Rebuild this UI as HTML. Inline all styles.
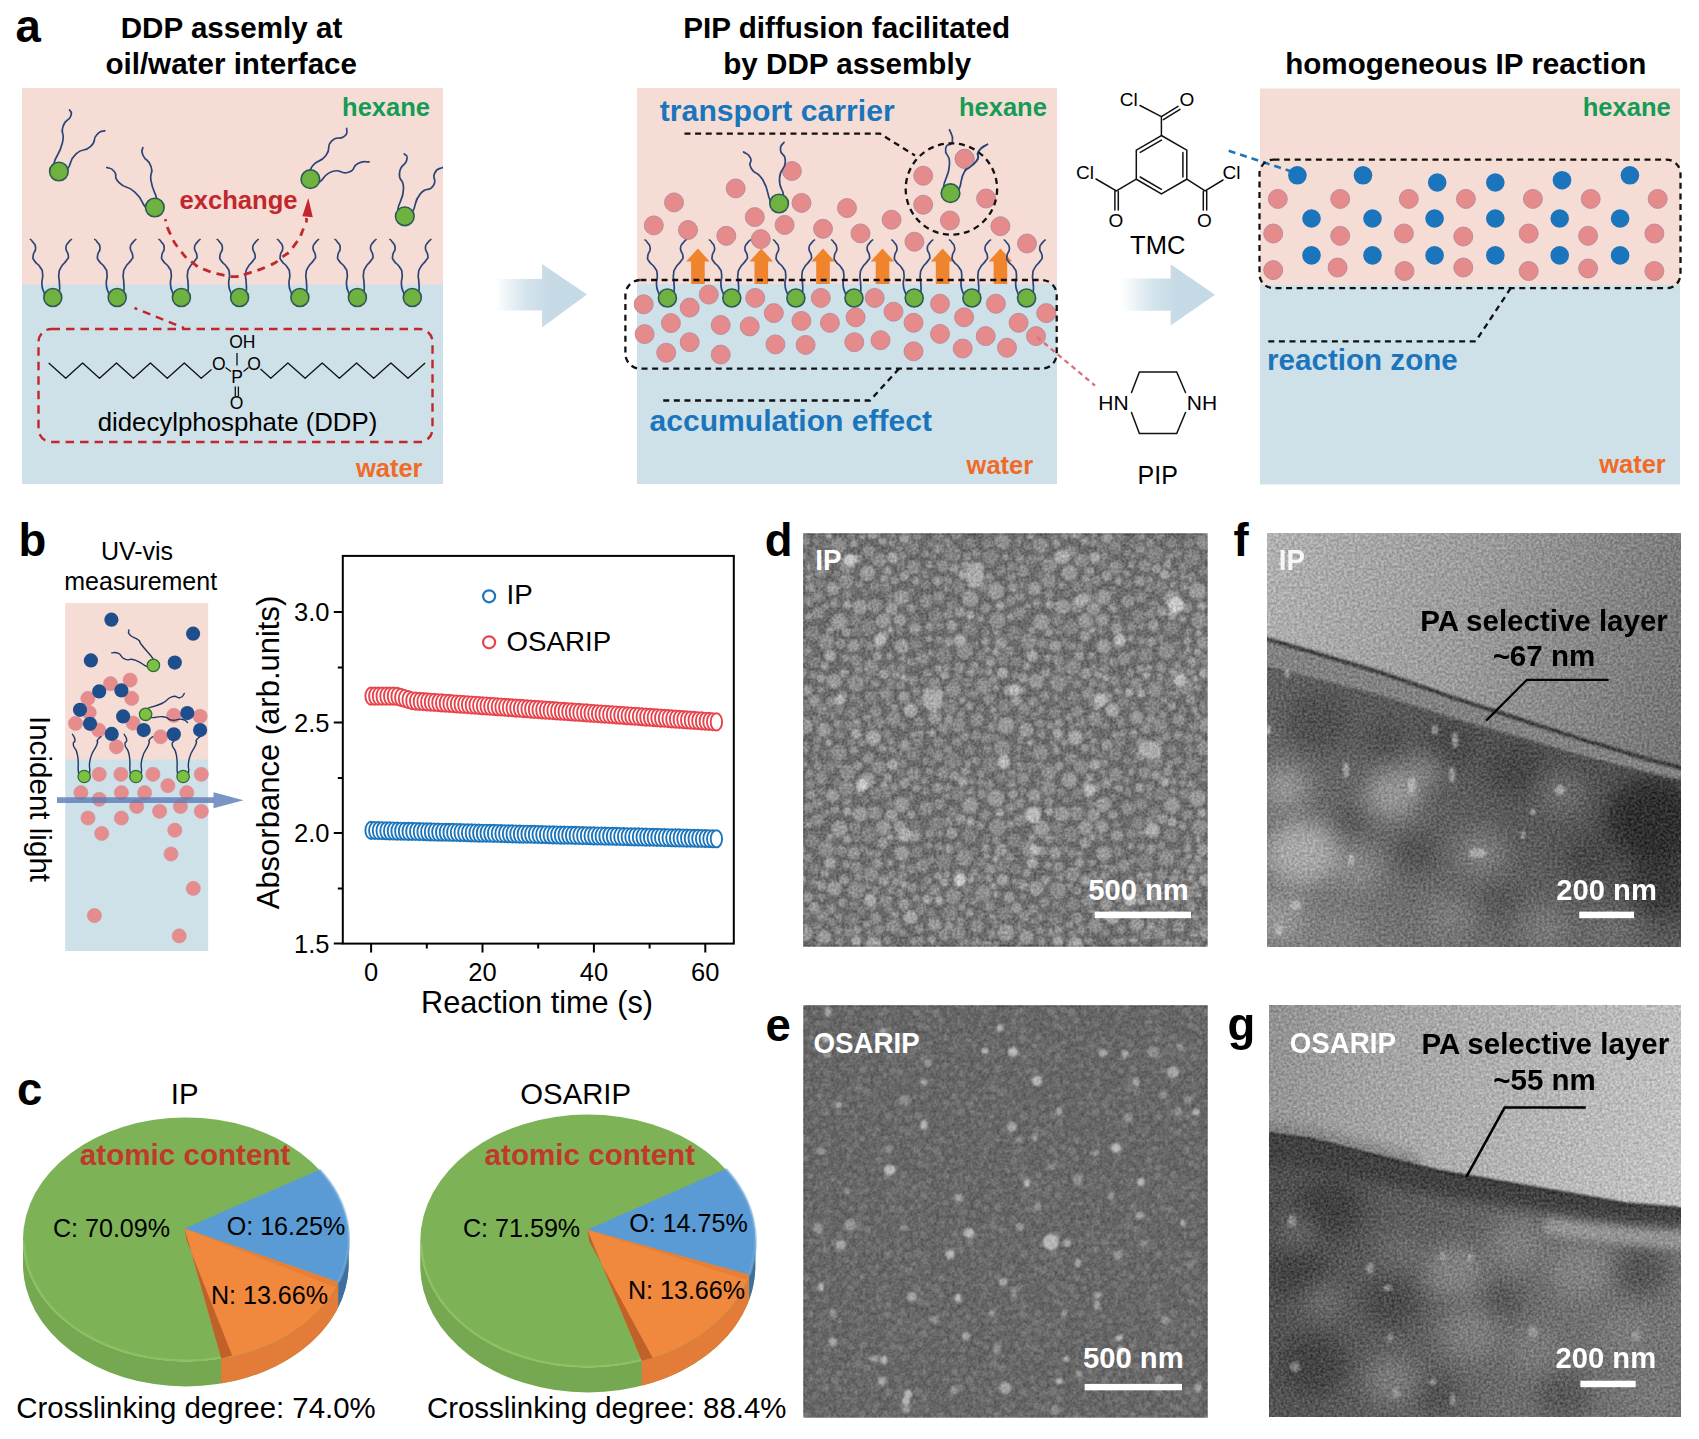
<!DOCTYPE html>
<html><head><meta charset="utf-8"><title>Figure</title>
<style>html,body{margin:0;padding:0;background:#fff}svg{display:block}text{font-family:"Liberation Sans",sans-serif}</style>
</head><body>
<svg width="1699" height="1439" viewBox="0 0 1699 1439">
<rect width="1699" height="1439" fill="#fff"/>
<rect x="22" y="88" width="421" height="197" fill="#F5DDD5"/>
<rect x="22" y="284.5" width="421" height="199.5" fill="#CFE1E8"/>
<text x="15.5" y="41.9" font-size="45.5" font-weight="bold" fill="#000" text-anchor="start" >a</text>
<text x="231.5" y="37.9" font-size="29.6" font-weight="bold" fill="#000" text-anchor="middle" >DDP assemly at</text>
<text x="231.2" y="73.6" font-size="29.6" font-weight="bold" fill="#000" text-anchor="middle" >oil/water interface</text>
<text x="430.0" y="115.6" font-size="25.5" font-weight="bold" fill="#149B55" text-anchor="end" >hexane</text>
<text x="422.5" y="476.6" font-size="25.5" font-weight="bold" fill="#F06A28" text-anchor="end" >water</text>
<clipPath id="cpa1"><rect x="22" y="88" width="421" height="396"/></clipPath><g clip-path="url(#cpa1)">
<path d="M55.9,166.5C55.3,165.2 51.9,170.6 54.1,162.7C56.3,154.8 59.5,154.7 62.4,142.7C65.3,130.7 60.1,135.5 62.9,126.7C65.7,117.9 68.5,121.9 70.7,116.3C72.9,110.7 70.0,112.0 69.6,109.9" fill="none" stroke="#2B4579" stroke-width="1.7" stroke-linecap="round"/><path d="M63.9,169.5C65.3,169.1 64.0,173.5 68.0,168.3C72.0,163.1 68.5,161.1 76.0,153.9C83.5,146.7 83.5,153.1 90.4,146.7C97.3,140.3 92.0,140.0 96.8,134.7C101.6,129.4 102.1,132.0 104.8,130.7" fill="none" stroke="#2B4579" stroke-width="1.7" stroke-linecap="round"/><circle cx="58.9" cy="171.5" r="9.3" fill="#6FB240" stroke="#2C5A55" stroke-width="1.6"/>
<path d="M149.8,207.3C148.4,207.3 150.4,212.2 145.5,207.2C140.6,202.2 143.9,200.5 135.1,192.3C126.3,184.1 126.0,189.6 119.1,182.7C112.2,175.8 118.4,176.6 114.3,171.5C110.2,166.4 109.3,168.8 106.8,167.5" fill="none" stroke="#2B4579" stroke-width="1.7" stroke-linecap="round"/><path d="M155.8,202.5C156.1,201.2 158.3,205.8 156.7,198.7C155.1,191.6 153.0,191.8 151.1,181.1C149.2,170.4 153.8,175.2 151.1,166.7C148.4,158.2 145.9,161.9 143.1,155.5C140.3,149.1 142.9,150.2 142.8,147.5" fill="none" stroke="#2B4579" stroke-width="1.7" stroke-linecap="round"/><circle cx="154.8" cy="207.5" r="9.3" fill="#6FB240" stroke="#2C5A55" stroke-width="1.6"/>
<path d="M310.4,174.2C311.3,171.2 307.9,171.4 313.1,165.2C318.3,159.0 319.8,163.5 325.9,155.5C332.0,147.5 325.4,147.6 331.5,141.2C337.6,134.8 339.2,140.7 344.3,136.4C349.4,132.1 345.9,131.1 346.7,128.4" fill="none" stroke="#2B4579" stroke-width="1.7" stroke-linecap="round"/><path d="M315.4,180.7C316.8,181.1 313.9,185.0 319.5,181.9C325.1,178.8 322.7,174.7 332.3,171.5C341.9,168.3 339.8,175.0 348.3,172.3C356.8,169.6 351.0,167.0 357.9,163.5C364.8,160.0 365.4,162.4 369.1,161.9" fill="none" stroke="#2B4579" stroke-width="1.7" stroke-linecap="round"/><circle cx="310.4" cy="179.2" r="9.3" fill="#6FB240" stroke="#2C5A55" stroke-width="1.6"/>
<path d="M400.8,212.3C399.8,211.2 397.0,216.8 397.9,209.1C398.8,201.4 403.0,201.1 403.5,189.1C404.0,177.1 398.4,182.7 399.5,173.1C400.6,163.5 405.1,166.7 406.7,160.3C408.3,153.9 405.1,156.0 404.3,153.9" fill="none" stroke="#2B4579" stroke-width="1.7" stroke-linecap="round"/><path d="M409.8,213.3C410.9,212.4 409.6,217.2 413.1,210.7C416.6,204.2 413.6,202.2 420.3,193.9C427.0,185.6 428.3,192.8 433.1,185.9C437.9,179.0 431.5,179.2 434.7,173.1C437.9,167.0 440.0,169.4 442.7,167.5" fill="none" stroke="#2B4579" stroke-width="1.7" stroke-linecap="round"/><circle cx="404.8" cy="216.3" r="9.3" fill="#6FB240" stroke="#2C5A55" stroke-width="1.6"/>
<path d="M45.3,294.5C44.7,293.5 44.7,295.1 43.6,291.6C42.5,288.1 42.2,289.7 41.9,283.9C41.6,278.1 43.2,279.7 42.6,274.2C42.0,268.7 42.9,271.7 40.2,267.3C37.5,262.9 36.9,264.9 34.6,261.0C32.3,257.1 32.9,259.9 33.2,255.5C33.5,251.1 35.8,252.4 35.6,247.8C35.4,243.2 34.2,244.4 32.5,241.6C30.8,238.8 31.1,240.2 30.4,239.5" fill="none" stroke="#2B4579" stroke-width="1.7" stroke-linecap="round"/><path d="M58.8,293.5C59.1,292.2 59.4,293.6 59.6,289.5C59.8,285.4 59.5,286.3 59.3,281.2C59.1,276.1 58.3,278.8 58.9,274.2C59.5,269.6 58.4,271.9 61.0,267.3C63.6,262.7 64.2,264.2 66.6,260.3C69.0,256.4 68.5,259.7 68.3,255.5C68.1,251.3 65.8,252.2 65.9,247.8C66.0,243.4 66.8,245.1 68.6,242.3C70.4,239.5 70.5,240.4 71.4,239.5" fill="none" stroke="#2B4579" stroke-width="1.7" stroke-linecap="round"/><circle cx="52.8" cy="297.5" r="9.0" fill="#6FB240" stroke="#2C5A55" stroke-width="1.6"/>
<path d="M109.7,294.5C109.1,293.5 109.1,295.1 108.0,291.6C106.9,288.1 106.6,289.7 106.3,283.9C106.0,278.1 107.6,279.7 107.0,274.2C106.4,268.7 107.3,271.7 104.6,267.3C101.9,262.9 101.3,264.9 99.0,261.0C96.7,257.1 97.3,259.9 97.6,255.5C97.9,251.1 100.2,252.4 100.0,247.8C99.8,243.2 98.6,244.4 96.9,241.6C95.2,238.8 95.5,240.2 94.8,239.5" fill="none" stroke="#2B4579" stroke-width="1.7" stroke-linecap="round"/><path d="M123.2,293.5C123.5,292.2 123.8,293.6 124.0,289.5C124.2,285.4 123.9,286.3 123.7,281.2C123.5,276.1 122.7,278.8 123.3,274.2C123.9,269.6 122.8,271.9 125.4,267.3C128.0,262.7 128.6,264.2 131.0,260.3C133.4,256.4 132.9,259.7 132.7,255.5C132.5,251.3 130.2,252.2 130.3,247.8C130.4,243.4 131.2,245.1 133.0,242.3C134.8,239.5 134.9,240.4 135.8,239.5" fill="none" stroke="#2B4579" stroke-width="1.7" stroke-linecap="round"/><circle cx="117.2" cy="297.5" r="9.0" fill="#6FB240" stroke="#2C5A55" stroke-width="1.6"/>
<path d="M173.9,294.5C173.3,293.5 173.3,295.1 172.2,291.6C171.1,288.1 170.8,289.7 170.5,283.9C170.2,278.1 171.8,279.7 171.2,274.2C170.6,268.7 171.5,271.7 168.8,267.3C166.1,262.9 165.5,264.9 163.2,261.0C160.9,257.1 161.5,259.9 161.8,255.5C162.1,251.1 164.4,252.4 164.2,247.8C164.0,243.2 162.8,244.4 161.1,241.6C159.4,238.8 159.7,240.2 159.0,239.5" fill="none" stroke="#2B4579" stroke-width="1.7" stroke-linecap="round"/><path d="M187.4,293.5C187.7,292.2 188.0,293.6 188.2,289.5C188.4,285.4 188.1,286.3 187.9,281.2C187.7,276.1 186.9,278.8 187.5,274.2C188.1,269.6 187.0,271.9 189.6,267.3C192.2,262.7 192.8,264.2 195.2,260.3C197.6,256.4 197.1,259.7 196.9,255.5C196.7,251.3 194.4,252.2 194.5,247.8C194.6,243.4 195.4,245.1 197.2,242.3C199.0,239.5 199.1,240.4 200.0,239.5" fill="none" stroke="#2B4579" stroke-width="1.7" stroke-linecap="round"/><circle cx="181.4" cy="297.5" r="9.0" fill="#6FB240" stroke="#2C5A55" stroke-width="1.6"/>
<path d="M232.1,294.5C231.5,293.5 231.5,295.1 230.4,291.6C229.3,288.1 229.0,289.7 228.7,283.9C228.4,278.1 230.0,279.7 229.4,274.2C228.8,268.7 229.7,271.7 227.0,267.3C224.3,262.9 223.7,264.9 221.4,261.0C219.1,257.1 219.7,259.9 220.0,255.5C220.3,251.1 222.6,252.4 222.4,247.8C222.2,243.2 221.0,244.4 219.3,241.6C217.6,238.8 217.9,240.2 217.2,239.5" fill="none" stroke="#2B4579" stroke-width="1.7" stroke-linecap="round"/><path d="M245.6,293.5C245.9,292.2 246.2,293.6 246.4,289.5C246.6,285.4 246.3,286.3 246.1,281.2C245.9,276.1 245.1,278.8 245.7,274.2C246.3,269.6 245.2,271.9 247.8,267.3C250.4,262.7 251.0,264.2 253.4,260.3C255.8,256.4 255.3,259.7 255.1,255.5C254.9,251.3 252.6,252.2 252.7,247.8C252.8,243.4 253.6,245.1 255.4,242.3C257.2,239.5 257.3,240.4 258.2,239.5" fill="none" stroke="#2B4579" stroke-width="1.7" stroke-linecap="round"/><circle cx="239.6" cy="297.5" r="9.0" fill="#6FB240" stroke="#2C5A55" stroke-width="1.6"/>
<path d="M292.4,294.5C291.8,293.5 291.8,295.1 290.7,291.6C289.6,288.1 289.3,289.7 289.0,283.9C288.7,278.1 290.3,279.7 289.7,274.2C289.1,268.7 290.0,271.7 287.3,267.3C284.6,262.9 284.0,264.9 281.7,261.0C279.4,257.1 280.0,259.9 280.3,255.5C280.6,251.1 282.9,252.4 282.7,247.8C282.5,243.2 281.3,244.4 279.6,241.6C277.9,238.8 278.2,240.2 277.5,239.5" fill="none" stroke="#2B4579" stroke-width="1.7" stroke-linecap="round"/><path d="M305.9,293.5C306.2,292.2 306.5,293.6 306.7,289.5C306.9,285.4 306.6,286.3 306.4,281.2C306.2,276.1 305.4,278.8 306.0,274.2C306.6,269.6 305.5,271.9 308.1,267.3C310.7,262.7 311.3,264.2 313.7,260.3C316.1,256.4 315.6,259.7 315.4,255.5C315.2,251.3 312.9,252.2 313.0,247.8C313.1,243.4 313.9,245.1 315.7,242.3C317.5,239.5 317.6,240.4 318.5,239.5" fill="none" stroke="#2B4579" stroke-width="1.7" stroke-linecap="round"/><circle cx="299.9" cy="297.5" r="9.0" fill="#6FB240" stroke="#2C5A55" stroke-width="1.6"/>
<path d="M349.9,294.5C349.3,293.5 349.3,295.1 348.2,291.6C347.1,288.1 346.8,289.7 346.5,283.9C346.2,278.1 347.8,279.7 347.2,274.2C346.6,268.7 347.5,271.7 344.8,267.3C342.1,262.9 341.5,264.9 339.2,261.0C336.9,257.1 337.5,259.9 337.8,255.5C338.1,251.1 340.4,252.4 340.2,247.8C340.0,243.2 338.8,244.4 337.1,241.6C335.4,238.8 335.7,240.2 335.0,239.5" fill="none" stroke="#2B4579" stroke-width="1.7" stroke-linecap="round"/><path d="M363.4,293.5C363.7,292.2 364.0,293.6 364.2,289.5C364.4,285.4 364.1,286.3 363.9,281.2C363.7,276.1 362.9,278.8 363.5,274.2C364.1,269.6 363.0,271.9 365.6,267.3C368.2,262.7 368.8,264.2 371.2,260.3C373.6,256.4 373.1,259.7 372.9,255.5C372.7,251.3 370.4,252.2 370.5,247.8C370.6,243.4 371.4,245.1 373.2,242.3C375.0,239.5 375.1,240.4 376.0,239.5" fill="none" stroke="#2B4579" stroke-width="1.7" stroke-linecap="round"/><circle cx="357.4" cy="297.5" r="9.0" fill="#6FB240" stroke="#2C5A55" stroke-width="1.6"/>
<path d="M404.8,294.5C404.2,293.5 404.2,295.1 403.1,291.6C402.0,288.1 401.7,289.7 401.4,283.9C401.1,278.1 402.7,279.7 402.1,274.2C401.5,268.7 402.4,271.7 399.7,267.3C397.0,262.9 396.4,264.9 394.1,261.0C391.8,257.1 392.4,259.9 392.7,255.5C393.0,251.1 395.3,252.4 395.1,247.8C394.9,243.2 393.7,244.4 392.0,241.6C390.3,238.8 390.6,240.2 389.9,239.5" fill="none" stroke="#2B4579" stroke-width="1.7" stroke-linecap="round"/><path d="M418.3,293.5C418.6,292.2 418.9,293.6 419.1,289.5C419.3,285.4 419.0,286.3 418.8,281.2C418.6,276.1 417.8,278.8 418.4,274.2C419.0,269.6 417.9,271.9 420.5,267.3C423.1,262.7 423.7,264.2 426.1,260.3C428.5,256.4 428.0,259.7 427.8,255.5C427.6,251.3 425.3,252.2 425.4,247.8C425.5,243.4 426.3,245.1 428.1,242.3C429.9,239.5 430.0,240.4 430.9,239.5" fill="none" stroke="#2B4579" stroke-width="1.7" stroke-linecap="round"/><circle cx="412.3" cy="297.5" r="9.0" fill="#6FB240" stroke="#2C5A55" stroke-width="1.6"/>
</g>
<path d="M165.2,219.2C166.9,224.1 165.4,223.7 170.3,233.9C175.2,244.1 172.4,240.3 179.9,249.9C187.4,259.5 184.2,256.0 192.7,262.7C201.2,269.4 195.9,265.9 205.5,269.9C215.1,273.9 210.7,272.5 221.5,274.7C232.3,276.9 229.8,276.8 238.0,276.5C246.2,276.2 235.9,277.4 246.0,273.9C256.1,270.4 256.7,271.2 268.4,265.9C280.1,260.6 272.7,264.6 281.2,257.9C289.7,251.2 286.3,256.3 294.0,245.9C301.7,235.5 300.1,236.0 304.3,226.7C308.5,217.4 305.8,220.9 306.5,218.0" fill="none" stroke="#C1272D" stroke-width="2.8" stroke-dasharray="8 6.2" stroke-dashoffset="6"/>
<polygon points="308.3,198 302.3,216.2 312.8,217.2" fill="#C1272D"/>
<text x="179.5" y="209.0" font-size="25.6" font-weight="bold" fill="#C1272D" text-anchor="start" >exchange</text>
<path d="M134.5,308 L184,328" fill="none" stroke="#C1272D" stroke-width="2.6" stroke-dasharray="8 6" stroke-dashoffset="5"/>
<rect x="38.5" y="329" width="394" height="113" rx="13" ry="13" fill="none" stroke="#C1272D" stroke-width="2.4" stroke-dasharray="8.5 6"/>
<path d="M48.7,363.0 L65.7,378.3 L82.6,363.0 L99.5,378.3 L116.5,363.0 L133.4,378.3 L150.4,363.0 L167.3,378.3 L184.3,363.0 L201.2,378.3 L211.5,369.5" fill="none" stroke="#111" stroke-width="1.3" stroke-linejoin="round"/>
<path d="M260.5,369 L270.8,378.3 L287.9,363.0 L305.1,378.3 L322.2,363.0 L339.4,378.3 L356.6,363.0 L373.7,378.3 L390.9,363.0 L408.0,378.3 L425.1,363.0" fill="none" stroke="#111" stroke-width="1.3" stroke-linejoin="round"/>
<path d="M225.5,367.5 L231,371.5 M243.5,371.5 L248.5,367.5 M237,353 L237,365.5 M235.3,386.5 L235.3,396 M238.4,386.5 L238.4,396" stroke="#111" stroke-width="1.3" fill="none"/>
<text x="242.3" y="347.5" font-size="17.5" font-weight="normal" fill="#000" text-anchor="middle" >OH</text>
<text x="218.8" y="369.5" font-size="17.5" font-weight="normal" fill="#000" text-anchor="middle" >O</text>
<text x="254.0" y="369.5" font-size="17.5" font-weight="normal" fill="#000" text-anchor="middle" >O</text>
<text x="237.0" y="383.0" font-size="17.5" font-weight="normal" fill="#000" text-anchor="middle" >P</text>
<text x="236.6" y="409.0" font-size="17.5" font-weight="normal" fill="#000" text-anchor="middle" >O</text>
<text x="237.5" y="431.3" font-size="25.8" font-weight="normal" fill="#000" text-anchor="middle" >didecylphosphate (DDP)</text>
<defs><linearGradient id="ag" x1="0" x2="1" y1="0" y2="0"><stop offset="0" stop-color="#fff"/><stop offset="0.35" stop-color="#D3E3EC"/><stop offset="0.6" stop-color="#C6DAE6"/><stop offset="1" stop-color="#C3DBE5"/></linearGradient></defs>
<polygon points="495,279 542,279 542,264 587,294.5 542,327.5 542,310.5 495,310.5" fill="url(#ag)"/>
<polygon points="1121,278.6 1170.6,278.6 1170.6,264.2 1215,294.8 1170.6,325.4 1170.6,310.7 1121,310.7" fill="url(#ag)"/>
<rect x="637" y="88" width="420" height="197" fill="#F5DDD5"/>
<rect x="637" y="284" width="420" height="200" fill="#CFE1E8"/>
<text x="846.7" y="38.0" font-size="29.6" font-weight="bold" fill="#000" text-anchor="middle" >PIP diffusion facilitated</text>
<text x="847.2" y="73.8" font-size="29.6" font-weight="bold" fill="#000" text-anchor="middle" >by DDP assembly</text>
<text x="1046.9" y="115.5" font-size="25.5" font-weight="bold" fill="#149B55" text-anchor="end" >hexane</text>
<text x="1033.2" y="473.5" font-size="25.5" font-weight="bold" fill="#F06A28" text-anchor="end" >water</text>
<text x="659.8" y="121.0" font-size="30.2" font-weight="bold" fill="#1B75BC" text-anchor="start" >transport carrier</text>
<text x="649.5" y="431.0" font-size="30.1" font-weight="bold" fill="#1B75BC" text-anchor="start" >accumulation effect</text>
<circle cx="653.8" cy="225.4" r="9.5" fill="#E58B8B" stroke="#B48A9C" stroke-width="0.9"/>
<circle cx="674.0" cy="202.4" r="9.5" fill="#E58B8B" stroke="#B48A9C" stroke-width="0.9"/>
<circle cx="688.0" cy="230.0" r="9.5" fill="#E58B8B" stroke="#B48A9C" stroke-width="0.9"/>
<circle cx="726.3" cy="235.8" r="9.5" fill="#E58B8B" stroke="#B48A9C" stroke-width="0.9"/>
<circle cx="735.7" cy="188.4" r="9.5" fill="#E58B8B" stroke="#B48A9C" stroke-width="0.9"/>
<circle cx="754.8" cy="217.1" r="9.5" fill="#E58B8B" stroke="#B48A9C" stroke-width="0.9"/>
<circle cx="760.8" cy="239.1" r="9.5" fill="#E58B8B" stroke="#B48A9C" stroke-width="0.9"/>
<circle cx="784.6" cy="224.9" r="9.5" fill="#E58B8B" stroke="#B48A9C" stroke-width="0.9"/>
<circle cx="791.9" cy="171.0" r="9.5" fill="#E58B8B" stroke="#B48A9C" stroke-width="0.9"/>
<circle cx="801.5" cy="202.9" r="9.5" fill="#E58B8B" stroke="#B48A9C" stroke-width="0.9"/>
<circle cx="823.0" cy="228.8" r="9.5" fill="#E58B8B" stroke="#B48A9C" stroke-width="0.9"/>
<circle cx="847.0" cy="208.0" r="9.5" fill="#E58B8B" stroke="#B48A9C" stroke-width="0.9"/>
<circle cx="860.5" cy="233.4" r="9.5" fill="#E58B8B" stroke="#B48A9C" stroke-width="0.9"/>
<circle cx="891.6" cy="219.7" r="9.5" fill="#E58B8B" stroke="#B48A9C" stroke-width="0.9"/>
<circle cx="914.4" cy="241.7" r="9.5" fill="#E58B8B" stroke="#B48A9C" stroke-width="0.9"/>
<circle cx="923.2" cy="175.7" r="9.5" fill="#E58B8B" stroke="#B48A9C" stroke-width="0.9"/>
<circle cx="923.2" cy="204.7" r="9.5" fill="#E58B8B" stroke="#B48A9C" stroke-width="0.9"/>
<circle cx="949.9" cy="220.5" r="9.5" fill="#E58B8B" stroke="#B48A9C" stroke-width="0.9"/>
<circle cx="964.6" cy="158.8" r="9.5" fill="#E58B8B" stroke="#B48A9C" stroke-width="0.9"/>
<circle cx="986.1" cy="198.5" r="9.5" fill="#E58B8B" stroke="#B48A9C" stroke-width="0.9"/>
<circle cx="1000.4" cy="226.2" r="9.5" fill="#E58B8B" stroke="#B48A9C" stroke-width="0.9"/>
<circle cx="1027.0" cy="243.5" r="9.5" fill="#E58B8B" stroke="#B48A9C" stroke-width="0.9"/>
<polygon points="691.1,284 691.1,261.5 686.1,261.5 697.9,248.5 709.6999999999999,261.5 704.6999999999999,261.5 704.6999999999999,284" fill="#F0842C"/>
<polygon points="754.5,284 754.5,261.5 749.5,261.5 761.3,248.5 773.0999999999999,261.5 768.0999999999999,261.5 768.0999999999999,284" fill="#F0842C"/>
<polygon points="816.2,284 816.2,261.5 811.2,261.5 823,248.5 834.8,261.5 829.8,261.5 829.8,284" fill="#F0842C"/>
<polygon points="875.7,284 875.7,261.5 870.7,261.5 882.5,248.5 894.3,261.5 889.3,261.5 889.3,284" fill="#F0842C"/>
<polygon points="935.8000000000001,284 935.8000000000001,261.5 930.8000000000001,261.5 942.6,248.5 954.4,261.5 949.4,261.5 949.4,284" fill="#F0842C"/>
<polygon points="993.6,284 993.6,261.5 988.6,261.5 1000.4,248.5 1012.1999999999999,261.5 1007.1999999999999,261.5 1007.1999999999999,284" fill="#F0842C"/>
<path d="M774.1,202.0C772.8,201.5 773.9,207.9 770.2,200.6C766.5,193.3 769.3,190.9 763.0,180.2C756.7,169.5 755.5,175.9 751.3,168.5C747.1,161.1 753.0,163.4 750.4,157.9C747.8,152.4 745.9,154.0 743.6,152.0" fill="none" stroke="#2B4579" stroke-width="1.7" stroke-linecap="round"/><path d="M781.1,198.5C781.9,197.3 783.9,201.5 783.4,194.8C782.9,188.1 778.9,189.3 779.5,178.3C780.1,167.3 785.0,171.1 785.3,161.7C785.6,152.3 780.9,156.6 780.5,150.1C780.1,143.6 782.8,144.9 784.0,142.3" fill="none" stroke="#2B4579" stroke-width="1.7" stroke-linecap="round"/><circle cx="779.1" cy="203.5" r="9.3" fill="#6FB240" stroke="#2C5A55" stroke-width="1.6"/>
<path d="M946.5,189.2C945.6,188.1 942.7,194.2 943.7,186.0C944.7,177.8 948.9,176.9 949.5,164.6C950.1,152.3 944.6,156.9 945.6,149.1C946.6,141.3 951.1,147.8 952.4,141.3C953.7,134.8 950.5,133.6 949.5,129.7" fill="none" stroke="#2B4579" stroke-width="1.7" stroke-linecap="round"/><path d="M955.5,190.7C956.7,190.1 956.0,195.6 959.2,188.9C962.4,182.2 959.3,179.9 965.1,170.5C970.9,161.1 972.2,167.3 976.7,160.8C981.2,154.3 975.1,156.6 978.7,151.1C982.3,145.6 984.5,146.6 987.4,144.3" fill="none" stroke="#2B4579" stroke-width="1.7" stroke-linecap="round"/>
<circle cx="964.6" cy="158.8" r="9.5" fill="#E58B8B" stroke="#B48A9C" stroke-width="0.9"/>
<path d="M965.1,170.5C969.0,167.3 972.2,167.3 976.7,160.8C981.2,154.3 975.1,156.6 978.7,151.1C982.3,145.6 984.5,146.6 987.4,144.3" fill="none" stroke="#2B4579" stroke-width="1.7" stroke-linecap="round"/>
<circle cx="950.5" cy="193.2" r="9.3" fill="#6FB240" stroke="#2C5A55" stroke-width="1.6"/>
<circle cx="643.7" cy="304.3" r="9.5" fill="#E58B8B" stroke="#B48A9C" stroke-width="0.9"/>
<circle cx="644.6" cy="334.1" r="9.5" fill="#E58B8B" stroke="#B48A9C" stroke-width="0.9"/>
<circle cx="666.2" cy="352.7" r="9.5" fill="#E58B8B" stroke="#B48A9C" stroke-width="0.9"/>
<circle cx="670.9" cy="323.1" r="9.5" fill="#E58B8B" stroke="#B48A9C" stroke-width="0.9"/>
<circle cx="689.7" cy="307.6" r="9.5" fill="#E58B8B" stroke="#B48A9C" stroke-width="0.9"/>
<circle cx="689.7" cy="342.2" r="9.5" fill="#E58B8B" stroke="#B48A9C" stroke-width="0.9"/>
<circle cx="708.8" cy="294.6" r="9.5" fill="#E58B8B" stroke="#B48A9C" stroke-width="0.9"/>
<circle cx="720.7" cy="325.0" r="9.5" fill="#E58B8B" stroke="#B48A9C" stroke-width="0.9"/>
<circle cx="720.7" cy="354.6" r="9.5" fill="#E58B8B" stroke="#B48A9C" stroke-width="0.9"/>
<circle cx="749.7" cy="326.4" r="9.5" fill="#E58B8B" stroke="#B48A9C" stroke-width="0.9"/>
<circle cx="755.2" cy="297.9" r="9.5" fill="#E58B8B" stroke="#B48A9C" stroke-width="0.9"/>
<circle cx="773.8" cy="313.1" r="9.5" fill="#E58B8B" stroke="#B48A9C" stroke-width="0.9"/>
<circle cx="775.4" cy="344.4" r="9.5" fill="#E58B8B" stroke="#B48A9C" stroke-width="0.9"/>
<circle cx="801.4" cy="320.9" r="9.5" fill="#E58B8B" stroke="#B48A9C" stroke-width="0.9"/>
<circle cx="805.6" cy="344.9" r="9.5" fill="#E58B8B" stroke="#B48A9C" stroke-width="0.9"/>
<circle cx="820.8" cy="297.9" r="9.5" fill="#E58B8B" stroke="#B48A9C" stroke-width="0.9"/>
<circle cx="829.9" cy="322.8" r="9.5" fill="#E58B8B" stroke="#B48A9C" stroke-width="0.9"/>
<circle cx="854.3" cy="342.2" r="9.5" fill="#E58B8B" stroke="#B48A9C" stroke-width="0.9"/>
<circle cx="855.6" cy="317.3" r="9.5" fill="#E58B8B" stroke="#B48A9C" stroke-width="0.9"/>
<circle cx="874.7" cy="297.9" r="9.5" fill="#E58B8B" stroke="#B48A9C" stroke-width="0.9"/>
<circle cx="880.5" cy="340.2" r="9.5" fill="#E58B8B" stroke="#B48A9C" stroke-width="0.9"/>
<circle cx="893.5" cy="311.7" r="9.5" fill="#E58B8B" stroke="#B48A9C" stroke-width="0.9"/>
<circle cx="913.5" cy="322.8" r="9.5" fill="#E58B8B" stroke="#B48A9C" stroke-width="0.9"/>
<circle cx="913.5" cy="351.3" r="9.5" fill="#E58B8B" stroke="#B48A9C" stroke-width="0.9"/>
<circle cx="940.0" cy="303.7" r="9.5" fill="#E58B8B" stroke="#B48A9C" stroke-width="0.9"/>
<circle cx="940.0" cy="333.9" r="9.5" fill="#E58B8B" stroke="#B48A9C" stroke-width="0.9"/>
<circle cx="962.7" cy="348.5" r="9.5" fill="#E58B8B" stroke="#B48A9C" stroke-width="0.9"/>
<circle cx="964.1" cy="317.3" r="9.5" fill="#E58B8B" stroke="#B48A9C" stroke-width="0.9"/>
<circle cx="985.7" cy="336.1" r="9.5" fill="#E58B8B" stroke="#B48A9C" stroke-width="0.9"/>
<circle cx="995.9" cy="303.7" r="9.5" fill="#E58B8B" stroke="#B48A9C" stroke-width="0.9"/>
<circle cx="1007.0" cy="347.7" r="9.5" fill="#E58B8B" stroke="#B48A9C" stroke-width="0.9"/>
<circle cx="1018.6" cy="322.8" r="9.5" fill="#E58B8B" stroke="#B48A9C" stroke-width="0.9"/>
<circle cx="1036.0" cy="336.1" r="9.5" fill="#E58B8B" stroke="#B48A9C" stroke-width="0.9"/>
<circle cx="1046.2" cy="313.1" r="9.5" fill="#E58B8B" stroke="#B48A9C" stroke-width="0.9"/>
<path d="M659.9,295.0C659.3,294.0 659.3,295.6 658.2,292.1C657.1,288.6 656.8,290.2 656.5,284.4C656.2,278.6 657.8,280.2 657.2,274.7C656.6,269.2 657.5,272.2 654.8,267.8C652.1,263.4 651.5,265.4 649.2,261.5C646.9,257.6 647.5,260.4 647.8,256.0C648.1,251.6 650.4,252.9 650.2,248.3C650.0,243.7 648.8,244.9 647.1,242.1C645.4,239.3 645.7,240.7 645.0,240.0" fill="none" stroke="#2B4579" stroke-width="1.7" stroke-linecap="round"/><path d="M673.4,294.0C673.7,292.7 674.0,294.1 674.2,290.0C674.4,285.9 674.1,286.8 673.9,281.7C673.7,276.6 672.9,279.3 673.5,274.7C674.1,270.1 673.0,272.4 675.6,267.8C678.2,263.2 678.8,264.7 681.2,260.8C683.6,256.9 683.1,260.2 682.9,256.0C682.7,251.8 680.4,252.7 680.5,248.3C680.6,243.9 681.4,245.6 683.2,242.8C685.0,240.0 685.1,240.9 686.0,240.0" fill="none" stroke="#2B4579" stroke-width="1.7" stroke-linecap="round"/><circle cx="667.4" cy="298.0" r="9.0" fill="#6FB240" stroke="#2C5A55" stroke-width="1.6"/>
<path d="M724.3,295.0C723.7,294.0 723.7,295.6 722.6,292.1C721.5,288.6 721.2,290.2 720.9,284.4C720.6,278.6 722.2,280.2 721.6,274.7C721.0,269.2 721.9,272.2 719.2,267.8C716.5,263.4 715.9,265.4 713.6,261.5C711.3,257.6 711.9,260.4 712.2,256.0C712.5,251.6 714.8,252.9 714.6,248.3C714.4,243.7 713.2,244.9 711.5,242.1C709.8,239.3 710.1,240.7 709.4,240.0" fill="none" stroke="#2B4579" stroke-width="1.7" stroke-linecap="round"/><path d="M737.8,294.0C738.1,292.7 738.4,294.1 738.6,290.0C738.8,285.9 738.5,286.8 738.3,281.7C738.1,276.6 737.3,279.3 737.9,274.7C738.5,270.1 737.4,272.4 740.0,267.8C742.6,263.2 743.2,264.7 745.6,260.8C748.0,256.9 747.5,260.2 747.3,256.0C747.1,251.8 744.8,252.7 744.9,248.3C745.0,243.9 745.8,245.6 747.6,242.8C749.4,240.0 749.5,240.9 750.4,240.0" fill="none" stroke="#2B4579" stroke-width="1.7" stroke-linecap="round"/><circle cx="731.8" cy="298.0" r="9.0" fill="#6FB240" stroke="#2C5A55" stroke-width="1.6"/>
<path d="M788.4,295.0C787.8,294.0 787.8,295.6 786.7,292.1C785.6,288.6 785.3,290.2 785.0,284.4C784.7,278.6 786.3,280.2 785.7,274.7C785.1,269.2 786.0,272.2 783.3,267.8C780.6,263.4 780.0,265.4 777.7,261.5C775.4,257.6 776.0,260.4 776.3,256.0C776.6,251.6 778.9,252.9 778.7,248.3C778.5,243.7 777.3,244.9 775.6,242.1C773.9,239.3 774.2,240.7 773.5,240.0" fill="none" stroke="#2B4579" stroke-width="1.7" stroke-linecap="round"/><path d="M801.9,294.0C802.2,292.7 802.5,294.1 802.7,290.0C802.9,285.9 802.6,286.8 802.4,281.7C802.2,276.6 801.4,279.3 802.0,274.7C802.6,270.1 801.5,272.4 804.1,267.8C806.7,263.2 807.3,264.7 809.7,260.8C812.1,256.9 811.6,260.2 811.4,256.0C811.2,251.8 808.9,252.7 809.0,248.3C809.1,243.9 809.9,245.6 811.7,242.8C813.5,240.0 813.6,240.9 814.5,240.0" fill="none" stroke="#2B4579" stroke-width="1.7" stroke-linecap="round"/><circle cx="795.9" cy="298.0" r="9.0" fill="#6FB240" stroke="#2C5A55" stroke-width="1.6"/>
<path d="M846.5,295.0C845.9,294.0 845.9,295.6 844.8,292.1C843.7,288.6 843.4,290.2 843.1,284.4C842.8,278.6 844.4,280.2 843.8,274.7C843.2,269.2 844.1,272.2 841.4,267.8C838.7,263.4 838.1,265.4 835.8,261.5C833.5,257.6 834.1,260.4 834.4,256.0C834.7,251.6 837.0,252.9 836.8,248.3C836.6,243.7 835.4,244.9 833.7,242.1C832.0,239.3 832.3,240.7 831.6,240.0" fill="none" stroke="#2B4579" stroke-width="1.7" stroke-linecap="round"/><path d="M860.0,294.0C860.3,292.7 860.6,294.1 860.8,290.0C861.0,285.9 860.7,286.8 860.5,281.7C860.3,276.6 859.5,279.3 860.1,274.7C860.7,270.1 859.6,272.4 862.2,267.8C864.8,263.2 865.4,264.7 867.8,260.8C870.2,256.9 869.7,260.2 869.5,256.0C869.3,251.8 867.0,252.7 867.1,248.3C867.2,243.9 868.0,245.6 869.8,242.8C871.6,240.0 871.7,240.9 872.6,240.0" fill="none" stroke="#2B4579" stroke-width="1.7" stroke-linecap="round"/><circle cx="854.0" cy="298.0" r="9.0" fill="#6FB240" stroke="#2C5A55" stroke-width="1.6"/>
<path d="M906.7,295.0C906.1,294.0 906.1,295.6 905.0,292.1C903.9,288.6 903.6,290.2 903.3,284.4C903.0,278.6 904.6,280.2 904.0,274.7C903.4,269.2 904.3,272.2 901.6,267.8C898.9,263.4 898.3,265.4 896.0,261.5C893.7,257.6 894.3,260.4 894.6,256.0C894.9,251.6 897.2,252.9 897.0,248.3C896.8,243.7 895.6,244.9 893.9,242.1C892.2,239.3 892.5,240.7 891.8,240.0" fill="none" stroke="#2B4579" stroke-width="1.7" stroke-linecap="round"/><path d="M920.2,294.0C920.5,292.7 920.8,294.1 921.0,290.0C921.2,285.9 920.9,286.8 920.7,281.7C920.5,276.6 919.7,279.3 920.3,274.7C920.9,270.1 919.8,272.4 922.4,267.8C925.0,263.2 925.6,264.7 928.0,260.8C930.4,256.9 929.9,260.2 929.7,256.0C929.5,251.8 927.2,252.7 927.3,248.3C927.4,243.9 928.2,245.6 930.0,242.8C931.8,240.0 931.9,240.9 932.8,240.0" fill="none" stroke="#2B4579" stroke-width="1.7" stroke-linecap="round"/><circle cx="914.2" cy="298.0" r="9.0" fill="#6FB240" stroke="#2C5A55" stroke-width="1.6"/>
<path d="M964.4,295.0C963.8,294.0 963.8,295.6 962.7,292.1C961.6,288.6 961.3,290.2 961.0,284.4C960.7,278.6 962.3,280.2 961.7,274.7C961.1,269.2 962.0,272.2 959.3,267.8C956.6,263.4 956.0,265.4 953.7,261.5C951.4,257.6 952.0,260.4 952.3,256.0C952.6,251.6 954.9,252.9 954.7,248.3C954.5,243.7 953.3,244.9 951.6,242.1C949.9,239.3 950.2,240.7 949.5,240.0" fill="none" stroke="#2B4579" stroke-width="1.7" stroke-linecap="round"/><path d="M977.9,294.0C978.2,292.7 978.5,294.1 978.7,290.0C978.9,285.9 978.6,286.8 978.4,281.7C978.2,276.6 977.4,279.3 978.0,274.7C978.6,270.1 977.5,272.4 980.1,267.8C982.7,263.2 983.3,264.7 985.7,260.8C988.1,256.9 987.6,260.2 987.4,256.0C987.2,251.8 984.9,252.7 985.0,248.3C985.1,243.9 985.9,245.6 987.7,242.8C989.5,240.0 989.6,240.9 990.5,240.0" fill="none" stroke="#2B4579" stroke-width="1.7" stroke-linecap="round"/><circle cx="971.9" cy="298.0" r="9.0" fill="#6FB240" stroke="#2C5A55" stroke-width="1.6"/>
<path d="M1019.1,295.0C1018.5,294.0 1018.5,295.6 1017.4,292.1C1016.3,288.6 1016.0,290.2 1015.7,284.4C1015.4,278.6 1017.0,280.2 1016.4,274.7C1015.8,269.2 1016.7,272.2 1014.0,267.8C1011.3,263.4 1010.7,265.4 1008.4,261.5C1006.1,257.6 1006.7,260.4 1007.0,256.0C1007.3,251.6 1009.6,252.9 1009.4,248.3C1009.2,243.7 1008.0,244.9 1006.3,242.1C1004.6,239.3 1004.9,240.7 1004.2,240.0" fill="none" stroke="#2B4579" stroke-width="1.7" stroke-linecap="round"/><path d="M1032.6,294.0C1032.9,292.7 1033.2,294.1 1033.4,290.0C1033.6,285.9 1033.3,286.8 1033.1,281.7C1032.9,276.6 1032.1,279.3 1032.7,274.7C1033.3,270.1 1032.2,272.4 1034.8,267.8C1037.4,263.2 1038.0,264.7 1040.4,260.8C1042.8,256.9 1042.3,260.2 1042.1,256.0C1041.9,251.8 1039.6,252.7 1039.7,248.3C1039.8,243.9 1040.6,245.6 1042.4,242.8C1044.2,240.0 1044.3,240.9 1045.2,240.0" fill="none" stroke="#2B4579" stroke-width="1.7" stroke-linecap="round"/><circle cx="1026.6" cy="298.0" r="9.0" fill="#6FB240" stroke="#2C5A55" stroke-width="1.6"/>
<circle cx="951.4" cy="189" r="45.7" fill="none" stroke="#111" stroke-width="2.3" stroke-dasharray="6 4.6"/>
<path d="M684.5,133.7 L880,133.7 L915,155.5" fill="none" stroke="#111" stroke-width="2.3" stroke-dasharray="6 4.6"/>
<rect x="625.4" y="280" width="431.3" height="88.7" rx="15" ry="15" fill="none" stroke="#111" stroke-width="2.3" stroke-dasharray="6 4.6"/>
<path d="M899,368.7 L870,400.5 L661,400.5" fill="none" stroke="#111" stroke-width="2.3" stroke-dasharray="6 4.6"/>
<path d="M1037,337 L1095,385.6" fill="none" stroke="#D9737F" stroke-width="2.4" stroke-dasharray="5 4"/>
<polygon points="1161.4,135.5 1186.8,150.2 1186.8,179.2 1161.4,193.9 1136.3,179.2 1136.3,150.2" stroke="#111" stroke-width="1.5" fill="none" stroke-linecap="round"/>
<path d="M1140.2,152.4 L1161.4,140.1 M1182.9,152.5 L1182.9,176.9 M1140.2,177 L1161.4,189.3" stroke="#111" stroke-width="1.5" fill="none" stroke-linecap="round"/>
<path d="M1161.4,135.5 L1161.4,116.6 L1140,105.5 M1161.4,116.6 L1178,106.3 M1163.4,119.6 L1180,109.3" stroke="#111" stroke-width="1.5" fill="none" stroke-linecap="round"/>
<path d="M1136.3,179.2 L1116.4,190.9 L1096,179 M1114.9,190.9 L1114.9,210 M1118.3,191.5 L1118.3,210" stroke="#111" stroke-width="1.5" fill="none" stroke-linecap="round"/>
<path d="M1186.8,179.2 L1205.1,190.9 L1223,180 M1203.3,191.5 L1203.3,210 M1206.7,190.9 L1206.7,210" stroke="#111" stroke-width="1.5" fill="none" stroke-linecap="round"/>
<text x="1128.7" y="106.3" font-size="19" font-weight="normal" fill="#000" text-anchor="middle" >Cl</text>
<text x="1187.0" y="105.8" font-size="19" font-weight="normal" fill="#000" text-anchor="middle" >O</text>
<text x="1085.0" y="179.0" font-size="19" font-weight="normal" fill="#000" text-anchor="middle" >Cl</text>
<text x="1231.5" y="179.0" font-size="19" font-weight="normal" fill="#000" text-anchor="middle" >Cl</text>
<text x="1115.8" y="226.5" font-size="19" font-weight="normal" fill="#000" text-anchor="middle" >O</text>
<text x="1204.4" y="226.5" font-size="19" font-weight="normal" fill="#000" text-anchor="middle" >O</text>
<text x="1157.7" y="254.2" font-size="25.5" font-weight="normal" fill="#000" text-anchor="middle" >TMC</text>
<path d="M1131.5,392.5 L1139.4,371.9 L1176.7,371.9 L1185.5,392.5 M1185.5,412.5 L1176.7,433.6 L1139.4,433.6 L1131.5,412.5" stroke="#111" stroke-width="1.5" fill="none" stroke-linecap="round"/>
<text x="1128.7" y="410.3" font-size="21" font-weight="normal" fill="#000" text-anchor="end" >HN</text>
<text x="1186.8" y="410.3" font-size="21" font-weight="normal" fill="#000" text-anchor="start" >NH</text>
<text x="1157.7" y="483.5" font-size="25" font-weight="normal" fill="#000" text-anchor="middle" >PIP</text>
<rect x="1260" y="88.5" width="420" height="197" fill="#F5DDD5"/>
<rect x="1260" y="285" width="420" height="199.5" fill="#CFE1E8"/>
<text x="1465.8" y="74.1" font-size="29.6" font-weight="bold" fill="#000" text-anchor="middle" >homogeneous IP reaction</text>
<text x="1670.7" y="115.6" font-size="25.5" font-weight="bold" fill="#149B55" text-anchor="end" >hexane</text>
<text x="1665.8" y="472.6" font-size="25.5" font-weight="bold" fill="#F06A28" text-anchor="end" >water</text>
<text x="1267.0" y="369.5" font-size="29.6" font-weight="bold" fill="#1B75BC" text-anchor="start" >reaction zone</text>
<circle cx="1297.4" cy="175.3" r="9.3" fill="#1B75BC"/>
<circle cx="1363" cy="175.3" r="9.3" fill="#1B75BC"/>
<circle cx="1437.2" cy="182.5" r="9.3" fill="#1B75BC"/>
<circle cx="1495.3" cy="182.5" r="9.3" fill="#1B75BC"/>
<circle cx="1562" cy="180.2" r="9.3" fill="#1B75BC"/>
<circle cx="1629.9" cy="175.3" r="9.3" fill="#1B75BC"/>
<circle cx="1311.5" cy="218.5" r="9.3" fill="#1B75BC"/>
<circle cx="1311.5" cy="255.4" r="9.3" fill="#1B75BC"/>
<circle cx="1372.5" cy="218.5" r="9.3" fill="#1B75BC"/>
<circle cx="1372.5" cy="255.4" r="9.3" fill="#1B75BC"/>
<circle cx="1434.6" cy="218.5" r="9.3" fill="#1B75BC"/>
<circle cx="1434.6" cy="255.4" r="9.3" fill="#1B75BC"/>
<circle cx="1495.3" cy="218.5" r="9.3" fill="#1B75BC"/>
<circle cx="1495.3" cy="255.4" r="9.3" fill="#1B75BC"/>
<circle cx="1559.7" cy="218.5" r="9.3" fill="#1B75BC"/>
<circle cx="1559.7" cy="255.4" r="9.3" fill="#1B75BC"/>
<circle cx="1620.1" cy="218.5" r="9.3" fill="#1B75BC"/>
<circle cx="1620.1" cy="255.4" r="9.3" fill="#1B75BC"/>
<circle cx="1277.8" cy="198.9" r="9.5" fill="#E58B8B" stroke="#B48A9C" stroke-width="0.9"/>
<circle cx="1340.2" cy="198.9" r="9.5" fill="#E58B8B" stroke="#B48A9C" stroke-width="0.9"/>
<circle cx="1408.8" cy="198.9" r="9.5" fill="#E58B8B" stroke="#B48A9C" stroke-width="0.9"/>
<circle cx="1465.9" cy="198.9" r="9.5" fill="#E58B8B" stroke="#B48A9C" stroke-width="0.9"/>
<circle cx="1532.9" cy="198.9" r="9.5" fill="#E58B8B" stroke="#B48A9C" stroke-width="0.9"/>
<circle cx="1590.7" cy="198.9" r="9.5" fill="#E58B8B" stroke="#B48A9C" stroke-width="0.9"/>
<circle cx="1657.7" cy="198.9" r="9.5" fill="#E58B8B" stroke="#B48A9C" stroke-width="0.9"/>
<circle cx="1273.2" cy="233.5" r="9.5" fill="#E58B8B" stroke="#B48A9C" stroke-width="0.9"/>
<circle cx="1340.2" cy="235.8" r="9.5" fill="#E58B8B" stroke="#B48A9C" stroke-width="0.9"/>
<circle cx="1403.9" cy="233.5" r="9.5" fill="#E58B8B" stroke="#B48A9C" stroke-width="0.9"/>
<circle cx="1463.3" cy="236.5" r="9.5" fill="#E58B8B" stroke="#B48A9C" stroke-width="0.9"/>
<circle cx="1528.7" cy="233.5" r="9.5" fill="#E58B8B" stroke="#B48A9C" stroke-width="0.9"/>
<circle cx="1588.1" cy="235.8" r="9.5" fill="#E58B8B" stroke="#B48A9C" stroke-width="0.9"/>
<circle cx="1654.4" cy="233.5" r="9.5" fill="#E58B8B" stroke="#B48A9C" stroke-width="0.9"/>
<circle cx="1273.2" cy="270.1" r="9.5" fill="#E58B8B" stroke="#B48A9C" stroke-width="0.9"/>
<circle cx="1337.6" cy="267.5" r="9.5" fill="#E58B8B" stroke="#B48A9C" stroke-width="0.9"/>
<circle cx="1404.5" cy="271.0" r="9.5" fill="#E58B8B" stroke="#B48A9C" stroke-width="0.9"/>
<circle cx="1463.3" cy="267.5" r="9.5" fill="#E58B8B" stroke="#B48A9C" stroke-width="0.9"/>
<circle cx="1528.7" cy="271.0" r="9.5" fill="#E58B8B" stroke="#B48A9C" stroke-width="0.9"/>
<circle cx="1588.1" cy="268.5" r="9.5" fill="#E58B8B" stroke="#B48A9C" stroke-width="0.9"/>
<circle cx="1654.4" cy="271.0" r="9.5" fill="#E58B8B" stroke="#B48A9C" stroke-width="0.9"/>
<path d="M1228.7,150.8 L1290,171" fill="none" stroke="#1B75BC" stroke-width="2.6" stroke-dasharray="7 5"/>
<rect x="1259.5" y="159.7" width="421" height="128.5" rx="14" ry="14" fill="none" stroke="#111" stroke-width="2.3" stroke-dasharray="6 4.6"/>
<path d="M1510.7,288.2 L1475.7,341.3 L1267.4,341.3" fill="none" stroke="#111" stroke-width="2.3" stroke-dasharray="6 4.6"/>
<text x="18.4" y="556.2" font-size="45.5" font-weight="bold" fill="#000" text-anchor="start" >b</text>
<text x="137.0" y="560.0" font-size="25" font-weight="normal" fill="#000" text-anchor="middle" >UV-vis</text>
<text x="140.7" y="589.7" font-size="25" font-weight="normal" fill="#000" text-anchor="middle" >measurement</text>
<rect x="65.2" y="603" width="143" height="157" fill="#F5DDD5"/>
<rect x="65.2" y="759.5" width="143" height="191.5" fill="#CFE1E8"/>
<text transform="translate(29.5,799) rotate(90)" font-size="29.6" text-anchor="middle">Incident light</text>
<circle cx="110.5" cy="683.7" r="7.1" fill="#E68C8C" stroke="#C9909A" stroke-width="0.6"/>
<circle cx="130.1" cy="680.1" r="7.1" fill="#E68C8C" stroke="#C9909A" stroke-width="0.6"/>
<circle cx="87.9" cy="698.4" r="7.1" fill="#E68C8C" stroke="#C9909A" stroke-width="0.6"/>
<circle cx="131.7" cy="698.4" r="7.1" fill="#E68C8C" stroke="#C9909A" stroke-width="0.6"/>
<circle cx="89.2" cy="712.6" r="7.1" fill="#E68C8C" stroke="#C9909A" stroke-width="0.6"/>
<circle cx="75.5" cy="723.4" r="7.1" fill="#E68C8C" stroke="#C9909A" stroke-width="0.6"/>
<circle cx="98.7" cy="730.1" r="7.1" fill="#E68C8C" stroke="#C9909A" stroke-width="0.6"/>
<circle cx="133.1" cy="723.1" r="7.1" fill="#E68C8C" stroke="#C9909A" stroke-width="0.6"/>
<circle cx="116.4" cy="746.8" r="7.1" fill="#E68C8C" stroke="#C9909A" stroke-width="0.6"/>
<circle cx="160.6" cy="736.8" r="7.1" fill="#E68C8C" stroke="#C9909A" stroke-width="0.6"/>
<circle cx="173.8" cy="715.4" r="7.1" fill="#E68C8C" stroke="#C9909A" stroke-width="0.6"/>
<circle cx="200.1" cy="716.3" r="7.1" fill="#E68C8C" stroke="#C9909A" stroke-width="0.6"/>
<path d="M80.2,773.5C79.6,772.9 79.3,777.9 78.4,771.8C77.5,765.7 79.2,764.0 77.5,755.1C75.8,746.2 74.2,750.1 73.4,745.1C72.6,740.1 75.3,743.7 75.0,740.1C74.7,736.5 73.3,736.2 72.5,734.3" fill="none" stroke="#1F3864" stroke-width="1.4" stroke-linecap="round"/><path d="M88.2,773.5C88.7,772.9 89.0,776.8 89.7,771.8C90.4,766.8 88.1,767.4 90.4,758.5C92.7,749.6 94.3,751.2 96.7,745.1C99.1,739.0 96.1,742.9 97.5,740.1C98.9,737.3 99.8,737.9 100.9,736.8" fill="none" stroke="#1F3864" stroke-width="1.4" stroke-linecap="round"/>
<path d="M131.9,773.5C131.3,772.9 131.0,777.9 130.1,771.8C129.2,765.7 130.9,764.0 129.2,755.1C127.5,746.2 125.9,750.1 125.1,745.1C124.3,740.1 127.0,743.7 126.7,740.1C126.4,736.5 125.0,736.2 124.2,734.3" fill="none" stroke="#1F3864" stroke-width="1.4" stroke-linecap="round"/><path d="M139.9,773.5C140.4,772.9 140.7,776.8 141.4,771.8C142.1,766.8 139.8,767.4 142.1,758.5C144.4,749.6 146.0,751.2 148.4,745.1C150.8,739.0 147.8,742.9 149.2,740.1C150.6,737.3 151.5,737.9 152.6,736.8" fill="none" stroke="#1F3864" stroke-width="1.4" stroke-linecap="round"/>
<path d="M179.1,773.5C178.5,772.9 178.2,777.9 177.3,771.8C176.4,765.7 178.1,764.0 176.4,755.1C174.7,746.2 173.1,750.1 172.3,745.1C171.5,740.1 174.2,743.7 173.9,740.1C173.6,736.5 172.2,736.2 171.4,734.3" fill="none" stroke="#1F3864" stroke-width="1.4" stroke-linecap="round"/><path d="M187.1,773.5C187.6,772.9 187.9,776.8 188.6,771.8C189.3,766.8 187.0,767.4 189.3,758.5C191.6,749.6 193.2,751.2 195.6,745.1C198.0,739.0 195.0,742.9 196.4,740.1C197.8,737.3 198.7,737.9 199.8,736.8" fill="none" stroke="#1F3864" stroke-width="1.4" stroke-linecap="round"/>
<circle cx="111.4" cy="619.7" r="7.1" fill="#1F4E8C"/>
<circle cx="193.1" cy="633.7" r="7.1" fill="#1F4E8C"/>
<circle cx="90.9" cy="660.4" r="7.1" fill="#1F4E8C"/>
<circle cx="174.8" cy="662.6" r="7.1" fill="#1F4E8C"/>
<circle cx="99.2" cy="691.4" r="7.1" fill="#1F4E8C"/>
<circle cx="121.4" cy="690.4" r="7.1" fill="#1F4E8C"/>
<circle cx="80" cy="709.8" r="7.1" fill="#1F4E8C"/>
<circle cx="123.1" cy="716.4" r="7.1" fill="#1F4E8C"/>
<circle cx="187.3" cy="713.1" r="7.1" fill="#1F4E8C"/>
<circle cx="90" cy="723.8" r="7.1" fill="#1F4E8C"/>
<circle cx="143.7" cy="730.1" r="7.1" fill="#1F4E8C"/>
<circle cx="111.7" cy="733.9" r="7.1" fill="#1F4E8C"/>
<circle cx="173.8" cy="734.3" r="7.1" fill="#1F4E8C"/>
<circle cx="200.1" cy="730.1" r="7.1" fill="#1F4E8C"/>
<path d="M153.4,662.4C153.4,661.3 157.3,665.0 153.4,659.2C149.5,653.4 146.7,651.4 141.7,645.0C136.7,638.6 142.3,643.3 138.4,640.0C134.5,636.7 133.2,638.3 130.0,635.0C126.8,631.7 129.3,631.7 128.9,630.0" fill="none" stroke="#1F3864" stroke-width="1.4" stroke-linecap="round"/><path d="M150.4,666.0C149.3,666.2 152.3,668.7 147.2,666.7C142.1,664.7 142.5,662.6 135.1,660.1C127.7,657.6 130.6,661.4 125.0,659.2C119.4,657.0 122.8,655.5 118.4,653.4C114.0,651.3 113.9,653.1 111.7,652.9" fill="none" stroke="#1F3864" stroke-width="1.4" stroke-linecap="round"/><circle cx="153.4" cy="665.4" r="6.2" fill="#7DC142" stroke="#2F6B3A" stroke-width="1.3"/>
<path d="M146.6,711.3C146.9,710.4 142.5,711.1 147.6,708.5C152.7,705.9 153.7,707.4 161.8,703.5C169.9,699.6 165.7,698.8 171.8,696.8C177.9,694.8 175.9,698.7 180.1,697.6C184.3,696.5 182.9,694.8 184.3,693.4" fill="none" stroke="#1F3864" stroke-width="1.4" stroke-linecap="round"/><path d="M148.6,715.8C149.7,716.4 146.9,717.3 151.8,717.6C156.7,717.9 156.7,716.0 163.4,716.8C170.1,717.6 165.7,719.3 171.8,720.1C177.9,720.9 176.5,718.5 181.8,719.3C187.1,720.1 185.7,721.5 187.6,722.6" fill="none" stroke="#1F3864" stroke-width="1.4" stroke-linecap="round"/><circle cx="145.6" cy="714.3" r="6.2" fill="#7DC142" stroke="#2F6B3A" stroke-width="1.3"/>
<circle cx="99.2" cy="774.3" r="7.1" fill="#E68C8C" stroke="#C9909A" stroke-width="0.6"/>
<circle cx="120.9" cy="774.3" r="7.1" fill="#E68C8C" stroke="#C9909A" stroke-width="0.6"/>
<circle cx="152.9" cy="774.3" r="7.1" fill="#E68C8C" stroke="#C9909A" stroke-width="0.6"/>
<circle cx="201.3" cy="774.3" r="7.1" fill="#E68C8C" stroke="#C9909A" stroke-width="0.6"/>
<circle cx="167.9" cy="785.7" r="7.1" fill="#E68C8C" stroke="#C9909A" stroke-width="0.6"/>
<circle cx="80.9" cy="792.7" r="7.1" fill="#E68C8C" stroke="#C9909A" stroke-width="0.6"/>
<circle cx="121.4" cy="792.7" r="7.1" fill="#E68C8C" stroke="#C9909A" stroke-width="0.6"/>
<circle cx="144.6" cy="792.7" r="7.1" fill="#E68C8C" stroke="#C9909A" stroke-width="0.6"/>
<circle cx="186.8" cy="792.7" r="7.1" fill="#E68C8C" stroke="#C9909A" stroke-width="0.6"/>
<circle cx="99.2" cy="799.3" r="7.1" fill="#E68C8C" stroke="#C9909A" stroke-width="0.6"/>
<circle cx="136.7" cy="806.5" r="7.1" fill="#E68C8C" stroke="#C9909A" stroke-width="0.6"/>
<circle cx="180.4" cy="806.5" r="7.1" fill="#E68C8C" stroke="#C9909A" stroke-width="0.6"/>
<circle cx="159.6" cy="811.3" r="7.1" fill="#E68C8C" stroke="#C9909A" stroke-width="0.6"/>
<circle cx="201.3" cy="811.3" r="7.1" fill="#E68C8C" stroke="#C9909A" stroke-width="0.6"/>
<circle cx="88" cy="818" r="7.1" fill="#E68C8C" stroke="#C9909A" stroke-width="0.6"/>
<circle cx="121.4" cy="818" r="7.1" fill="#E68C8C" stroke="#C9909A" stroke-width="0.6"/>
<circle cx="101.7" cy="833.5" r="7.1" fill="#E68C8C" stroke="#C9909A" stroke-width="0.6"/>
<circle cx="174.8" cy="830.2" r="7.1" fill="#E68C8C" stroke="#C9909A" stroke-width="0.6"/>
<circle cx="171" cy="854" r="7.1" fill="#E68C8C" stroke="#C9909A" stroke-width="0.6"/>
<circle cx="193.3" cy="888.4" r="7.1" fill="#E68C8C" stroke="#C9909A" stroke-width="0.6"/>
<circle cx="94.4" cy="915.6" r="7.1" fill="#E68C8C" stroke="#C9909A" stroke-width="0.6"/>
<circle cx="179.2" cy="935.9" r="7.1" fill="#E68C8C" stroke="#C9909A" stroke-width="0.6"/>
<circle cx="84.2" cy="776.5" r="6.2" fill="#7DC142" stroke="#2F6B3A" stroke-width="1.3"/>
<circle cx="135.9" cy="776.5" r="6.2" fill="#7DC142" stroke="#2F6B3A" stroke-width="1.3"/>
<circle cx="183.1" cy="776.5" r="6.2" fill="#7DC142" stroke="#2F6B3A" stroke-width="1.3"/>
<polygon points="57,797.3 213.5,797.3 213.5,792.2 243.5,800.2 213.5,808.2 213.5,803.1 57,803.1" fill="#5C7DB8" fill-opacity="0.82"/>
<rect x="342.8" y="555.9" width="390.99999999999994" height="387.70000000000005" fill="#fff" stroke="#000" stroke-width="2"/>
<text x="329.5" y="621.1" font-size="25.5" font-weight="normal" fill="#000" text-anchor="end" >3.0</text>
<text x="329.5" y="731.6" font-size="25.5" font-weight="normal" fill="#000" text-anchor="end" >2.5</text>
<text x="329.5" y="842.1" font-size="25.5" font-weight="normal" fill="#000" text-anchor="end" >2.0</text>
<text x="329.5" y="952.6" font-size="25.5" font-weight="normal" fill="#000" text-anchor="end" >1.5</text>
<text x="371.1" y="981.0" font-size="25.5" font-weight="normal" fill="#000" text-anchor="middle" >0</text>
<text x="482.5" y="981.0" font-size="25.5" font-weight="normal" fill="#000" text-anchor="middle" >20</text>
<text x="593.9" y="981.0" font-size="25.5" font-weight="normal" fill="#000" text-anchor="middle" >40</text>
<text x="705.3" y="981.0" font-size="25.5" font-weight="normal" fill="#000" text-anchor="middle" >60</text>
<path d="M342.8,612.1 h-9 M342.8,722.6 h-9 M342.8,833.1 h-9 M342.8,943.6 h-9 M342.8,667.4 h-5 M342.8,777.9 h-5 M342.8,888.4 h-5 M371.1,943.6 v9 M482.5,943.6 v9 M593.9,943.6 v9 M705.3,943.6 v9 M426.8,943.6 v5 M538.2,943.6 v5 M649.6,943.6 v5" stroke="#000" stroke-width="2" fill="none"/>
<text x="537.0" y="1012.7" font-size="30.7" font-weight="normal" fill="#000" text-anchor="middle" >Reaction time (s)</text>
<text transform="translate(279,752.5) rotate(-90)" font-size="31" text-anchor="middle">Absorbance (arb.units)</text>
<circle cx="489.1" cy="596.3" r="6" fill="#fff" stroke="#1B75BC" stroke-width="2.2"/>
<circle cx="489.1" cy="642.3" r="6" fill="#fff" stroke="#E8434B" stroke-width="2.2"/>
<text x="506.5" y="603.6" font-size="27.7" font-weight="normal" fill="#000" text-anchor="start" >IP</text>
<text x="506.5" y="650.6" font-size="27.7" font-weight="normal" fill="#000" text-anchor="start" >OSARIP</text>
<g fill="#fff" stroke="#E8434B" stroke-width="1.9"><ellipse cx="371.1" cy="696.1" rx="5.7" ry="8.6"/><ellipse cx="374.8" cy="696.1" rx="5.7" ry="8.6"/><ellipse cx="378.5" cy="696.1" rx="5.7" ry="8.6"/><ellipse cx="382.2" cy="696.1" rx="5.7" ry="8.6"/><ellipse cx="386.0" cy="696.1" rx="5.7" ry="8.6"/><ellipse cx="389.7" cy="696.1" rx="5.7" ry="8.6"/><ellipse cx="393.4" cy="696.1" rx="5.7" ry="8.6"/><ellipse cx="397.1" cy="696.4" rx="5.7" ry="8.6"/><ellipse cx="400.8" cy="697.4" rx="5.7" ry="8.6"/><ellipse cx="404.5" cy="698.5" rx="5.7" ry="8.6"/><ellipse cx="408.2" cy="699.6" rx="5.7" ry="8.6"/><ellipse cx="411.9" cy="700.7" rx="5.7" ry="8.6"/><ellipse cx="415.7" cy="701.1" rx="5.7" ry="8.6"/><ellipse cx="419.4" cy="701.4" rx="5.7" ry="8.6"/><ellipse cx="423.1" cy="701.6" rx="5.7" ry="8.6"/><ellipse cx="426.8" cy="701.9" rx="5.7" ry="8.6"/><ellipse cx="430.5" cy="702.2" rx="5.7" ry="8.6"/><ellipse cx="434.2" cy="702.4" rx="5.7" ry="8.6"/><ellipse cx="437.9" cy="702.7" rx="5.7" ry="8.6"/><ellipse cx="441.7" cy="702.9" rx="5.7" ry="8.6"/><ellipse cx="445.4" cy="703.2" rx="5.7" ry="8.6"/><ellipse cx="449.1" cy="703.4" rx="5.7" ry="8.6"/><ellipse cx="452.8" cy="703.7" rx="5.7" ry="8.6"/><ellipse cx="456.5" cy="704.0" rx="5.7" ry="8.6"/><ellipse cx="460.2" cy="704.2" rx="5.7" ry="8.6"/><ellipse cx="463.9" cy="704.5" rx="5.7" ry="8.6"/><ellipse cx="467.6" cy="704.7" rx="5.7" ry="8.6"/><ellipse cx="471.4" cy="705.0" rx="5.7" ry="8.6"/><ellipse cx="475.1" cy="705.2" rx="5.7" ry="8.6"/><ellipse cx="478.8" cy="705.5" rx="5.7" ry="8.6"/><ellipse cx="482.5" cy="705.8" rx="5.7" ry="8.6"/><ellipse cx="486.2" cy="706.0" rx="5.7" ry="8.6"/><ellipse cx="489.9" cy="706.3" rx="5.7" ry="8.6"/><ellipse cx="493.6" cy="706.5" rx="5.7" ry="8.6"/><ellipse cx="497.4" cy="706.8" rx="5.7" ry="8.6"/><ellipse cx="501.1" cy="707.0" rx="5.7" ry="8.6"/><ellipse cx="504.8" cy="707.3" rx="5.7" ry="8.6"/><ellipse cx="508.5" cy="707.6" rx="5.7" ry="8.6"/><ellipse cx="512.2" cy="707.8" rx="5.7" ry="8.6"/><ellipse cx="515.9" cy="708.1" rx="5.7" ry="8.6"/><ellipse cx="519.6" cy="708.3" rx="5.7" ry="8.6"/><ellipse cx="523.3" cy="708.6" rx="5.7" ry="8.6"/><ellipse cx="527.1" cy="708.8" rx="5.7" ry="8.6"/><ellipse cx="530.8" cy="709.1" rx="5.7" ry="8.6"/><ellipse cx="534.5" cy="709.4" rx="5.7" ry="8.6"/><ellipse cx="538.2" cy="709.6" rx="5.7" ry="8.6"/><ellipse cx="541.9" cy="709.9" rx="5.7" ry="8.6"/><ellipse cx="545.6" cy="710.1" rx="5.7" ry="8.6"/><ellipse cx="549.3" cy="710.4" rx="5.7" ry="8.6"/><ellipse cx="553.1" cy="710.6" rx="5.7" ry="8.6"/><ellipse cx="556.8" cy="710.9" rx="5.7" ry="8.6"/><ellipse cx="560.5" cy="711.2" rx="5.7" ry="8.6"/><ellipse cx="564.2" cy="711.4" rx="5.7" ry="8.6"/><ellipse cx="567.9" cy="711.7" rx="5.7" ry="8.6"/><ellipse cx="571.6" cy="711.9" rx="5.7" ry="8.6"/><ellipse cx="575.3" cy="712.2" rx="5.7" ry="8.6"/><ellipse cx="579.0" cy="712.4" rx="5.7" ry="8.6"/><ellipse cx="582.8" cy="712.7" rx="5.7" ry="8.6"/><ellipse cx="586.5" cy="712.9" rx="5.7" ry="8.6"/><ellipse cx="590.2" cy="713.2" rx="5.7" ry="8.6"/><ellipse cx="593.9" cy="713.5" rx="5.7" ry="8.6"/><ellipse cx="597.6" cy="713.7" rx="5.7" ry="8.6"/><ellipse cx="601.3" cy="714.0" rx="5.7" ry="8.6"/><ellipse cx="605.0" cy="714.2" rx="5.7" ry="8.6"/><ellipse cx="608.8" cy="714.5" rx="5.7" ry="8.6"/><ellipse cx="612.5" cy="714.7" rx="5.7" ry="8.6"/><ellipse cx="616.2" cy="715.0" rx="5.7" ry="8.6"/><ellipse cx="619.9" cy="715.3" rx="5.7" ry="8.6"/><ellipse cx="623.6" cy="715.5" rx="5.7" ry="8.6"/><ellipse cx="627.3" cy="715.8" rx="5.7" ry="8.6"/><ellipse cx="631.0" cy="716.0" rx="5.7" ry="8.6"/><ellipse cx="634.7" cy="716.3" rx="5.7" ry="8.6"/><ellipse cx="638.5" cy="716.5" rx="5.7" ry="8.6"/><ellipse cx="642.2" cy="716.8" rx="5.7" ry="8.6"/><ellipse cx="645.9" cy="717.1" rx="5.7" ry="8.6"/><ellipse cx="649.6" cy="717.3" rx="5.7" ry="8.6"/><ellipse cx="653.3" cy="717.6" rx="5.7" ry="8.6"/><ellipse cx="657.0" cy="717.8" rx="5.7" ry="8.6"/><ellipse cx="660.7" cy="718.1" rx="5.7" ry="8.6"/><ellipse cx="664.5" cy="718.3" rx="5.7" ry="8.6"/><ellipse cx="668.2" cy="718.6" rx="5.7" ry="8.6"/><ellipse cx="671.9" cy="718.9" rx="5.7" ry="8.6"/><ellipse cx="675.6" cy="719.1" rx="5.7" ry="8.6"/><ellipse cx="679.3" cy="719.4" rx="5.7" ry="8.6"/><ellipse cx="683.0" cy="719.6" rx="5.7" ry="8.6"/><ellipse cx="686.7" cy="719.9" rx="5.7" ry="8.6"/><ellipse cx="690.4" cy="720.1" rx="5.7" ry="8.6"/><ellipse cx="694.2" cy="720.4" rx="5.7" ry="8.6"/><ellipse cx="697.9" cy="720.7" rx="5.7" ry="8.6"/><ellipse cx="701.6" cy="720.9" rx="5.7" ry="8.6"/><ellipse cx="705.3" cy="721.2" rx="5.7" ry="8.6"/><ellipse cx="709.0" cy="721.4" rx="5.7" ry="8.6"/><ellipse cx="712.7" cy="721.7" rx="5.7" ry="8.6"/><ellipse cx="716.4" cy="721.9" rx="5.7" ry="8.6"/></g>
<g fill="#fff" stroke="#1B75BC" stroke-width="1.9"><ellipse cx="371.1" cy="830.4" rx="5.7" ry="8.6"/><ellipse cx="374.8" cy="830.5" rx="5.7" ry="8.6"/><ellipse cx="378.5" cy="830.6" rx="5.7" ry="8.6"/><ellipse cx="382.2" cy="830.7" rx="5.7" ry="8.6"/><ellipse cx="386.0" cy="830.8" rx="5.7" ry="8.6"/><ellipse cx="389.7" cy="830.9" rx="5.7" ry="8.6"/><ellipse cx="393.4" cy="831.0" rx="5.7" ry="8.6"/><ellipse cx="397.1" cy="831.1" rx="5.7" ry="8.6"/><ellipse cx="400.8" cy="831.2" rx="5.7" ry="8.6"/><ellipse cx="404.5" cy="831.3" rx="5.7" ry="8.6"/><ellipse cx="408.2" cy="831.4" rx="5.7" ry="8.6"/><ellipse cx="411.9" cy="831.4" rx="5.7" ry="8.6"/><ellipse cx="415.7" cy="831.5" rx="5.7" ry="8.6"/><ellipse cx="419.4" cy="831.6" rx="5.7" ry="8.6"/><ellipse cx="423.1" cy="831.7" rx="5.7" ry="8.6"/><ellipse cx="426.8" cy="831.8" rx="5.7" ry="8.6"/><ellipse cx="430.5" cy="831.9" rx="5.7" ry="8.6"/><ellipse cx="434.2" cy="832.0" rx="5.7" ry="8.6"/><ellipse cx="437.9" cy="832.1" rx="5.7" ry="8.6"/><ellipse cx="441.7" cy="832.2" rx="5.7" ry="8.6"/><ellipse cx="445.4" cy="832.3" rx="5.7" ry="8.6"/><ellipse cx="449.1" cy="832.3" rx="5.7" ry="8.6"/><ellipse cx="452.8" cy="832.4" rx="5.7" ry="8.6"/><ellipse cx="456.5" cy="832.5" rx="5.7" ry="8.6"/><ellipse cx="460.2" cy="832.6" rx="5.7" ry="8.6"/><ellipse cx="463.9" cy="832.7" rx="5.7" ry="8.6"/><ellipse cx="467.6" cy="832.8" rx="5.7" ry="8.6"/><ellipse cx="471.4" cy="832.9" rx="5.7" ry="8.6"/><ellipse cx="475.1" cy="833.0" rx="5.7" ry="8.6"/><ellipse cx="478.8" cy="833.1" rx="5.7" ry="8.6"/><ellipse cx="482.5" cy="833.2" rx="5.7" ry="8.6"/><ellipse cx="486.2" cy="833.2" rx="5.7" ry="8.6"/><ellipse cx="489.9" cy="833.3" rx="5.7" ry="8.6"/><ellipse cx="493.6" cy="833.4" rx="5.7" ry="8.6"/><ellipse cx="497.4" cy="833.5" rx="5.7" ry="8.6"/><ellipse cx="501.1" cy="833.6" rx="5.7" ry="8.6"/><ellipse cx="504.8" cy="833.7" rx="5.7" ry="8.6"/><ellipse cx="508.5" cy="833.8" rx="5.7" ry="8.6"/><ellipse cx="512.2" cy="833.9" rx="5.7" ry="8.6"/><ellipse cx="515.9" cy="834.0" rx="5.7" ry="8.6"/><ellipse cx="519.6" cy="834.1" rx="5.7" ry="8.6"/><ellipse cx="523.3" cy="834.2" rx="5.7" ry="8.6"/><ellipse cx="527.1" cy="834.2" rx="5.7" ry="8.6"/><ellipse cx="530.8" cy="834.3" rx="5.7" ry="8.6"/><ellipse cx="534.5" cy="834.4" rx="5.7" ry="8.6"/><ellipse cx="538.2" cy="834.5" rx="5.7" ry="8.6"/><ellipse cx="541.9" cy="834.6" rx="5.7" ry="8.6"/><ellipse cx="545.6" cy="834.7" rx="5.7" ry="8.6"/><ellipse cx="549.3" cy="834.8" rx="5.7" ry="8.6"/><ellipse cx="553.1" cy="834.9" rx="5.7" ry="8.6"/><ellipse cx="556.8" cy="835.0" rx="5.7" ry="8.6"/><ellipse cx="560.5" cy="835.1" rx="5.7" ry="8.6"/><ellipse cx="564.2" cy="835.1" rx="5.7" ry="8.6"/><ellipse cx="567.9" cy="835.2" rx="5.7" ry="8.6"/><ellipse cx="571.6" cy="835.3" rx="5.7" ry="8.6"/><ellipse cx="575.3" cy="835.4" rx="5.7" ry="8.6"/><ellipse cx="579.0" cy="835.5" rx="5.7" ry="8.6"/><ellipse cx="582.8" cy="835.6" rx="5.7" ry="8.6"/><ellipse cx="586.5" cy="835.7" rx="5.7" ry="8.6"/><ellipse cx="590.2" cy="835.8" rx="5.7" ry="8.6"/><ellipse cx="593.9" cy="835.9" rx="5.7" ry="8.6"/><ellipse cx="597.6" cy="836.0" rx="5.7" ry="8.6"/><ellipse cx="601.3" cy="836.0" rx="5.7" ry="8.6"/><ellipse cx="605.0" cy="836.1" rx="5.7" ry="8.6"/><ellipse cx="608.8" cy="836.2" rx="5.7" ry="8.6"/><ellipse cx="612.5" cy="836.3" rx="5.7" ry="8.6"/><ellipse cx="616.2" cy="836.4" rx="5.7" ry="8.6"/><ellipse cx="619.9" cy="836.5" rx="5.7" ry="8.6"/><ellipse cx="623.6" cy="836.6" rx="5.7" ry="8.6"/><ellipse cx="627.3" cy="836.7" rx="5.7" ry="8.6"/><ellipse cx="631.0" cy="836.8" rx="5.7" ry="8.6"/><ellipse cx="634.7" cy="836.9" rx="5.7" ry="8.6"/><ellipse cx="638.5" cy="836.9" rx="5.7" ry="8.6"/><ellipse cx="642.2" cy="837.0" rx="5.7" ry="8.6"/><ellipse cx="645.9" cy="837.1" rx="5.7" ry="8.6"/><ellipse cx="649.6" cy="837.2" rx="5.7" ry="8.6"/><ellipse cx="653.3" cy="837.3" rx="5.7" ry="8.6"/><ellipse cx="657.0" cy="837.4" rx="5.7" ry="8.6"/><ellipse cx="660.7" cy="837.5" rx="5.7" ry="8.6"/><ellipse cx="664.5" cy="837.6" rx="5.7" ry="8.6"/><ellipse cx="668.2" cy="837.7" rx="5.7" ry="8.6"/><ellipse cx="671.9" cy="837.8" rx="5.7" ry="8.6"/><ellipse cx="675.6" cy="837.9" rx="5.7" ry="8.6"/><ellipse cx="679.3" cy="837.9" rx="5.7" ry="8.6"/><ellipse cx="683.0" cy="838.0" rx="5.7" ry="8.6"/><ellipse cx="686.7" cy="838.1" rx="5.7" ry="8.6"/><ellipse cx="690.4" cy="838.2" rx="5.7" ry="8.6"/><ellipse cx="694.2" cy="838.3" rx="5.7" ry="8.6"/><ellipse cx="697.9" cy="838.4" rx="5.7" ry="8.6"/><ellipse cx="701.6" cy="838.5" rx="5.7" ry="8.6"/><ellipse cx="705.3" cy="838.6" rx="5.7" ry="8.6"/><ellipse cx="709.0" cy="838.7" rx="5.7" ry="8.6"/><ellipse cx="712.7" cy="838.8" rx="5.7" ry="8.6"/><ellipse cx="716.4" cy="838.8" rx="5.7" ry="8.6"/></g>
<text x="17.0" y="1105.0" font-size="45.5" font-weight="bold" fill="#000" text-anchor="start" >c</text>
<path d="M23.0,1239.5 A162.8,122 0 0 0 348.6,1239.5 L348.6,1264.5 A162.8,122 0 0 1 23.0,1264.5 Z" fill="#75A851"/>
<path d="M221.2,1358.6 A162.8,122 0 0 0 338.3,1282.2 L338.3,1307.2 A162.8,122 0 0 1 221.2,1383.6 Z" fill="#E27C38"/>
<path d="M338.3,1282.2 A162.8,122 0 0 0 348.6,1239.5 L348.6,1264.5 A162.8,122 0 0 1 338.3,1307.2 Z" fill="#3D6FA3"/>
<ellipse cx="185.8" cy="1239.5" rx="162.8" ry="122" fill="#7DB356"/>
<path d="M24.0,1242.5 A161.8,121 0 0 0 221.2,1357.6" fill="none" stroke="#8FC468" stroke-width="2.2" opacity="0.8"/>
<path d="M184.6,1228.4 L319.3,1169.7 A162.8,122 0 0 1 338.3,1282.2 Z" fill="#5B9BD5"/>
<path d="M184.6,1228.4 L338.3,1282.2 A162.8,122 0 0 1 221.2,1358.6 Z" fill="#F0883E"/>
<path d="M184.6,1228.4 L221.2,1358.6 L232.2,1355.6 L186.6,1240.4 Z" fill="#BF6229"/>
<path d="M184.6,1228.4 L338.3,1282.2 L335.3,1287.2 Z" fill="#E27C38" opacity="0.7"/>
<path d="M319.3,1169.7 A162.8,122 0 0 1 338.3,1282.2" fill="none" stroke="#6FA8DC" stroke-width="3" opacity="0.6"/>
<text x="184.6" y="1104.0" font-size="29.3" font-weight="normal" fill="#000" text-anchor="middle" >IP</text>
<text x="185.1" y="1164.8" font-size="29.6" font-weight="bold" fill="#C0392B" text-anchor="middle" >atomic content</text>
<text x="111.5" y="1236.5" font-size="25.1" font-weight="normal" fill="#000" text-anchor="middle" >C: 70.09%</text>
<text x="286.0" y="1234.6" font-size="25.1" font-weight="normal" fill="#000" text-anchor="middle" >O: 16.25%</text>
<text x="269.5" y="1304.0" font-size="25.1" font-weight="normal" fill="#000" text-anchor="middle" >N: 13.66%</text>
<text x="196.0" y="1418.3" font-size="29.4" font-weight="normal" fill="#000" text-anchor="middle" >Crosslinking degree: 74.0%</text>
<path d="M420.29999999999995,1241 A167.5,126.5 0 0 0 755.3,1241 L755.3,1266 A167.5,126.5 0 0 1 420.29999999999995,1266 Z" fill="#75A851"/>
<path d="M641.7,1360.8 A167.5,126.5 0 0 0 749.2,1274.8 L749.2,1299.8 A167.5,126.5 0 0 1 641.7,1385.8 Z" fill="#E27C38"/>
<path d="M749.2,1274.8 A167.5,126.5 0 0 0 755.3,1241 L755.3,1266 A167.5,126.5 0 0 1 749.2,1299.8 Z" fill="#3D6FA3"/>
<ellipse cx="587.8" cy="1241" rx="167.5" ry="126.5" fill="#7DB356"/>
<path d="M421.29999999999995,1244 A166.5,125.5 0 0 0 641.7,1359.8" fill="none" stroke="#8FC468" stroke-width="2.2" opacity="0.8"/>
<path d="M587.3,1229.7 L725.6,1169.1 A167.5,126.5 0 0 1 749.2,1274.8 Z" fill="#5B9BD5"/>
<path d="M587.3,1229.7 L749.2,1274.8 A167.5,126.5 0 0 1 641.7,1360.8 Z" fill="#F0883E"/>
<path d="M587.3,1229.7 L641.7,1360.8 L652.7,1357.8 L589.3,1241.7 Z" fill="#BF6229"/>
<path d="M587.3,1229.7 L749.2,1274.8 L746.2,1279.8 Z" fill="#E27C38" opacity="0.7"/>
<path d="M725.6,1169.1 A167.5,126.5 0 0 1 749.2,1274.8" fill="none" stroke="#6FA8DC" stroke-width="3" opacity="0.6"/>
<text x="575.7" y="1104.0" font-size="29.3" font-weight="normal" fill="#000" text-anchor="middle" >OSARIP</text>
<text x="589.8" y="1164.8" font-size="29.6" font-weight="bold" fill="#C0392B" text-anchor="middle" >atomic content</text>
<text x="521.6" y="1237.0" font-size="25.1" font-weight="normal" fill="#000" text-anchor="middle" >C: 71.59%</text>
<text x="688.5" y="1232.4" font-size="25.1" font-weight="normal" fill="#000" text-anchor="middle" >O: 14.75%</text>
<text x="686.5" y="1298.6" font-size="25.1" font-weight="normal" fill="#000" text-anchor="middle" >N: 13.66%</text>
<text x="606.7" y="1418.3" font-size="29.4" font-weight="normal" fill="#000" text-anchor="middle" >Crosslinking degree: 88.4%</text>
<defs>
<pattern id="gpd" width="202" height="207" patternUnits="userSpaceOnUse"><rect width="202" height="207" fill="#6A6A6A"/><g fill="#A6A6A6"><circle cx="48.1" cy="112.7" r="5.2"/><circle cx="102.4" cy="89.3" r="7.0"/><circle cx="194.6" cy="52.0" r="5.6"/><circle cx="191.9" cy="192.0" r="4.4"/><circle cx="84.9" cy="143.7" r="5.6"/><circle cx="20.8" cy="121.7" r="3.2"/><circle cx="65.5" cy="116.7" r="7.6"/><circle cx="22.2" cy="34.8" r="5.8"/><circle cx="39.4" cy="190.6" r="4.2"/><circle cx="154.8" cy="160.8" r="4.8"/><circle cx="131.3" cy="72.6" r="4.5"/><circle cx="136.7" cy="54.3" r="3.9"/><circle cx="119.2" cy="71.5" r="4.6"/><circle cx="82.3" cy="9.3" r="3.2"/><circle cx="95.9" cy="56.5" r="3.5"/><circle cx="162.3" cy="201.1" r="4.5"/><circle cx="187.8" cy="30.9" r="3.3"/></g><g fill="#848484"><circle cx="122.0" cy="129.5" r="3.5"/><circle cx="47.3" cy="-0.9" r="5.7"/><circle cx="47.3" cy="206.1" r="5.7"/><circle cx="60.9" cy="6.4" r="7.8"/><circle cx="60.9" cy="213.4" r="7.8"/><circle cx="144.3" cy="190.7" r="5.3"/><circle cx="135.6" cy="33.8" r="7.8"/><circle cx="115.9" cy="59.0" r="3.5"/><circle cx="6.3" cy="40.9" r="5.4"/><circle cx="105.1" cy="133.3" r="6.4"/><circle cx="4.5" cy="12.5" r="6.8"/><circle cx="206.5" cy="12.5" r="6.8"/><circle cx="63.2" cy="76.4" r="6.4"/><circle cx="67.4" cy="172.5" r="5.5"/><circle cx="172.8" cy="35.0" r="5.0"/><circle cx="150.6" cy="173.2" r="6.7"/><circle cx="182.5" cy="143.6" r="8.1"/><circle cx="161.8" cy="128.9" r="5.5"/><circle cx="29.0" cy="160.3" r="3.4"/><circle cx="161.3" cy="7.5" r="7.3"/><circle cx="-5.4" cy="85.5" r="7.2"/><circle cx="196.6" cy="85.5" r="7.2"/><circle cx="142.5" cy="85.5" r="7.7"/><circle cx="145.0" cy="139.8" r="8.3"/><circle cx="172.5" cy="50.1" r="4.2"/><circle cx="108.3" cy="23.5" r="5.8"/><circle cx="54.6" cy="20.6" r="3.8"/><circle cx="128.0" cy="-4.8" r="6.8"/><circle cx="128.0" cy="202.2" r="6.8"/><circle cx="48.6" cy="10.1" r="4.0"/><circle cx="166.8" cy="23.3" r="3.3"/><circle cx="17.9" cy="132.7" r="3.3"/><circle cx="44.5" cy="91.5" r="6.2"/><circle cx="117.7" cy="170.5" r="4.3"/><circle cx="194.4" cy="38.5" r="6.2"/><circle cx="109.9" cy="121.2" r="5.3"/><circle cx="113.2" cy="80.9" r="5.7"/><circle cx="43.8" cy="121.5" r="3.9"/><circle cx="179.2" cy="129.2" r="4.9"/><circle cx="123.9" cy="141.7" r="3.3"/><circle cx="193.6" cy="156.6" r="5.1"/><circle cx="81.6" cy="183.0" r="4.1"/><circle cx="93.1" cy="151.4" r="3.8"/><circle cx="123.2" cy="85.3" r="4.1"/><circle cx="172.8" cy="88.1" r="3.6"/><circle cx="158.7" cy="72.1" r="3.5"/><circle cx="107.4" cy="-2.8" r="3.6"/><circle cx="107.4" cy="204.2" r="3.6"/><circle cx="21.4" cy="146.3" r="5.4"/><circle cx="9.6" cy="98.5" r="4.5"/><circle cx="57.0" cy="179.1" r="3.3"/><circle cx="78.7" cy="173.4" r="4.8"/><circle cx="24.2" cy="94.1" r="4.2"/><circle cx="178.0" cy="11.5" r="4.2"/><circle cx="46.2" cy="76.7" r="4.2"/><circle cx="91.0" cy="134.0" r="3.8"/><circle cx="103.2" cy="176.5" r="3.5"/><circle cx="6.7" cy="136.7" r="3.2"/><circle cx="52.9" cy="82.8" r="3.8"/><circle cx="159.4" cy="61.2" r="4.8"/><circle cx="91.4" cy="9.8" r="4.3"/><circle cx="12.7" cy="170.3" r="4.1"/><circle cx="62.8" cy="105.2" r="3.9"/></g><g fill="#9A9A9A"><circle cx="2.7" cy="173.4" r="4.6"/><circle cx="204.7" cy="173.4" r="4.6"/><circle cx="177.5" cy="20.2" r="3.9"/><circle cx="187.6" cy="177.3" r="8.5"/><circle cx="172.5" cy="-2.1" r="3.7"/><circle cx="172.5" cy="204.9" r="3.7"/><circle cx="161.7" cy="85.0" r="4.0"/><circle cx="59.4" cy="159.1" r="7.8"/><circle cx="-3.9" cy="104.6" r="8.5"/><circle cx="198.1" cy="104.6" r="8.5"/><circle cx="105.3" cy="113.5" r="3.3"/><circle cx="83.9" cy="120.1" r="3.3"/><circle cx="126.7" cy="96.5" r="6.8"/><circle cx="141.0" cy="21.1" r="4.9"/><circle cx="45.5" cy="25.0" r="6.0"/><circle cx="129.7" cy="166.9" r="5.0"/><circle cx="26.2" cy="60.4" r="7.4"/><circle cx="31.5" cy="1.0" r="8.2"/><circle cx="31.5" cy="208.0" r="8.2"/><circle cx="83.6" cy="194.4" r="6.4"/><circle cx="96.4" cy="161.9" r="5.1"/><circle cx="162.8" cy="170.5" r="3.2"/><circle cx="93.8" cy="25.5" r="7.5"/><circle cx="24.5" cy="174.7" r="6.8"/><circle cx="96.9" cy="124.0" r="5.7"/><circle cx="157.4" cy="150.5" r="4.2"/><circle cx="162.2" cy="184.5" r="8.2"/><circle cx="121.5" cy="150.5" r="3.2"/><circle cx="107.0" cy="7.7" r="5.9"/><circle cx="22.0" cy="8.8" r="3.6"/><circle cx="81.6" cy="34.8" r="3.3"/><circle cx="143.6" cy="4.8" r="5.7"/><circle cx="143.6" cy="211.8" r="5.7"/><circle cx="74.8" cy="14.9" r="5.3"/><circle cx="193.0" cy="21.7" r="6.2"/><circle cx="38.0" cy="36.8" r="3.6"/><circle cx="-0.9" cy="69.4" r="5.5"/><circle cx="201.1" cy="69.4" r="5.5"/><circle cx="17.0" cy="45.1" r="4.1"/><circle cx="93.6" cy="183.6" r="7.5"/><circle cx="163.3" cy="51.2" r="3.9"/><circle cx="16.1" cy="108.9" r="7.1"/><circle cx="74.9" cy="127.2" r="3.9"/><circle cx="121.0" cy="17.6" r="3.3"/><circle cx="35.9" cy="51.9" r="4.6"/><circle cx="49.6" cy="144.8" r="4.3"/><circle cx="13.3" cy="57.2" r="4.9"/><circle cx="178.6" cy="28.6" r="3.2"/><circle cx="92.1" cy="-1.2" r="6.4"/><circle cx="92.1" cy="205.8" r="6.4"/><circle cx="69.4" cy="35.1" r="4.9"/><circle cx="103.1" cy="194.1" r="4.3"/><circle cx="52.1" cy="192.9" r="7.5"/><circle cx="59.1" cy="96.4" r="3.4"/><circle cx="184.8" cy="88.8" r="3.4"/><circle cx="75.5" cy="-0.3" r="7.3"/><circle cx="75.5" cy="206.7" r="7.3"/><circle cx="96.2" cy="76.4" r="5.8"/><circle cx="108.1" cy="70.3" r="3.5"/><circle cx="130.5" cy="48.0" r="3.9"/><circle cx="138.7" cy="46.7" r="3.3"/><circle cx="46.2" cy="129.4" r="3.9"/><circle cx="48.9" cy="102.0" r="3.9"/><circle cx="108.5" cy="167.1" r="3.8"/><circle cx="188.1" cy="66.2" r="3.3"/><circle cx="75.8" cy="164.8" r="4.0"/><circle cx="76.1" cy="52.5" r="5.6"/><circle cx="166.5" cy="44.1" r="3.3"/><circle cx="182.3" cy="40.8" r="4.9"/><circle cx="86.8" cy="86.5" r="3.3"/><circle cx="185.5" cy="58.0" r="3.4"/><circle cx="123.7" cy="112.2" r="3.9"/><circle cx="0.5" cy="202.9" r="3.7"/><circle cx="202.5" cy="202.9" r="3.7"/><circle cx="152.3" cy="197.9" r="5.2"/><circle cx="54.3" cy="121.7" r="3.2"/><circle cx="146.5" cy="154.6" r="4.7"/><circle cx="141.0" cy="97.9" r="4.3"/><circle cx="39.1" cy="11.4" r="4.1"/><circle cx="79.7" cy="156.8" r="4.1"/><circle cx="181.0" cy="50.5" r="3.4"/><circle cx="6.5" cy="79.8" r="5.5"/><circle cx="88.1" cy="53.6" r="3.9"/><circle cx="154.0" cy="79.0" r="3.3"/><circle cx="188.6" cy="11.6" r="3.4"/></g><g fill="#8E8E8E"><circle cx="169.0" cy="98.6" r="6.6"/><circle cx="30.4" cy="131.4" r="7.8"/><circle cx="105.7" cy="153.4" r="6.8"/><circle cx="12.9" cy="157.0" r="6.3"/><circle cx="126.6" cy="62.3" r="5.9"/><circle cx="77.9" cy="72.6" r="6.3"/><circle cx="118.0" cy="187.2" r="6.8"/><circle cx="8.9" cy="127.2" r="3.4"/><circle cx="145.1" cy="68.5" r="7.9"/><circle cx="123.3" cy="32.3" r="3.4"/><circle cx="175.3" cy="65.0" r="8.3"/><circle cx="181.1" cy="78.2" r="5.6"/><circle cx="48.0" cy="62.3" r="8.4"/><circle cx="71.2" cy="146.3" r="7.1"/><circle cx="62.6" cy="46.1" r="7.5"/><circle cx="48.2" cy="38.8" r="5.5"/><circle cx="131.3" cy="183.2" r="5.6"/><circle cx="38.5" cy="167.0" r="7.6"/><circle cx="104.8" cy="59.8" r="5.0"/><circle cx="60.6" cy="137.2" r="6.0"/><circle cx="85.4" cy="97.9" r="7.3"/><circle cx="130.7" cy="121.4" r="5.1"/><circle cx="14.5" cy="88.0" r="5.5"/><circle cx="177.7" cy="193.9" r="5.2"/><circle cx="181.4" cy="163.7" r="4.6"/><circle cx="134.8" cy="151.9" r="6.2"/><circle cx="18.5" cy="20.6" r="7.9"/><circle cx="136.1" cy="107.0" r="5.8"/><circle cx="34.8" cy="74.6" r="4.9"/><circle cx="156.4" cy="29.7" r="8.5"/><circle cx="94.4" cy="47.5" r="4.4"/><circle cx="117.2" cy="139.8" r="3.2"/><circle cx="67.6" cy="90.3" r="5.8"/><circle cx="79.0" cy="112.7" r="3.8"/><circle cx="114.4" cy="37.7" r="6.6"/><circle cx="92.5" cy="64.7" r="4.1"/><circle cx="81.5" cy="82.1" r="3.3"/><circle cx="70.0" cy="25.7" r="3.5"/><circle cx="23.2" cy="80.7" r="5.0"/><circle cx="167.9" cy="114.2" r="4.7"/><circle cx="111.0" cy="100.9" r="4.7"/><circle cx="9.9" cy="198.9" r="6.0"/><circle cx="189.7" cy="-0.6" r="8.4"/><circle cx="189.7" cy="206.4" r="8.4"/><circle cx="174.2" cy="172.9" r="4.7"/><circle cx="197.8" cy="143.1" r="3.6"/><circle cx="173.2" cy="152.8" r="4.3"/><circle cx="39.2" cy="180.4" r="4.3"/><circle cx="40.7" cy="104.6" r="4.1"/><circle cx="103.2" cy="41.3" r="4.4"/><circle cx="151.6" cy="46.7" r="5.6"/><circle cx="150.5" cy="104.4" r="6.8"/><circle cx="86.4" cy="166.5" r="4.6"/><circle cx="121.5" cy="6.0" r="4.8"/><circle cx="178.5" cy="116.9" r="5.0"/><circle cx="67.3" cy="62.8" r="4.3"/><circle cx="119.9" cy="52.0" r="3.9"/><circle cx="-0.5" cy="29.4" r="4.7"/><circle cx="201.5" cy="29.4" r="4.7"/><circle cx="61.7" cy="25.5" r="4.2"/><circle cx="138.7" cy="174.9" r="3.4"/><circle cx="39.2" cy="151.3" r="7.6"/><circle cx="83.8" cy="46.0" r="3.4"/><circle cx="166.1" cy="73.3" r="3.6"/><circle cx="17.9" cy="192.2" r="3.4"/><circle cx="31.5" cy="113.2" r="4.3"/><circle cx="-7.7" cy="127.2" r="8.2"/><circle cx="194.3" cy="127.2" r="8.2"/><circle cx="32.8" cy="22.4" r="5.2"/><circle cx="148.9" cy="120.9" r="4.7"/><circle cx="51.7" cy="170.9" r="3.8"/><circle cx="0.5" cy="187.0" r="5.0"/><circle cx="202.5" cy="187.0" r="5.0"/><circle cx="95.0" cy="105.1" r="3.6"/><circle cx="50.1" cy="48.5" r="4.1"/><circle cx="26.7" cy="189.2" r="4.7"/><circle cx="13.1" cy="68.7" r="3.5"/><circle cx="131.3" cy="19.0" r="3.8"/><circle cx="71.5" cy="101.6" r="4.9"/><circle cx="9.9" cy="182.2" r="5.3"/><circle cx="183.8" cy="105.9" r="4.7"/><circle cx="94.7" cy="38.0" r="3.6"/><circle cx="67.0" cy="191.8" r="7.1"/><circle cx="167.7" cy="139.5" r="4.3"/><circle cx="131.3" cy="5.5" r="3.4"/><circle cx="150.9" cy="17.3" r="3.7"/><circle cx="163.7" cy="159.9" r="3.3"/><circle cx="139.9" cy="166.5" r="3.9"/><circle cx="31.1" cy="88.9" r="3.8"/><circle cx="140.3" cy="200.4" r="4.8"/><circle cx="112.8" cy="112.2" r="3.8"/><circle cx="1.6" cy="152.4" r="3.9"/><circle cx="203.6" cy="152.4" r="3.9"/><circle cx="10.1" cy="145.1" r="4.6"/><circle cx="30.0" cy="102.5" r="4.4"/><circle cx="30.4" cy="143.8" r="3.5"/><circle cx="5.1" cy="54.1" r="3.5"/><circle cx="94.7" cy="141.7" r="3.7"/><circle cx="10.1" cy="118.4" r="3.6"/><circle cx="1.6" cy="163.2" r="4.4"/><circle cx="203.6" cy="163.2" r="4.4"/><circle cx="156.7" cy="115.2" r="4.6"/><circle cx="172.7" cy="162.1" r="3.5"/><circle cx="187.7" cy="96.1" r="3.3"/><circle cx="149.9" cy="56.4" r="3.7"/><circle cx="82.9" cy="61.9" r="4.0"/><circle cx="59.7" cy="58.1" r="3.3"/><circle cx="153.1" cy="93.4" r="3.9"/><circle cx="139.8" cy="128.2" r="4.0"/><circle cx="116.8" cy="159.6" r="3.6"/><circle cx="187.9" cy="116.9" r="3.3"/><circle cx="84.0" cy="128.6" r="3.7"/><circle cx="159.6" cy="142.5" r="3.7"/><circle cx="130.3" cy="134.7" r="5.4"/></g></pattern>
<pattern id="gpe" width="135" height="138" patternUnits="userSpaceOnUse"><rect width="135" height="138" fill="#606060"/><g fill="#727272"><circle cx="43.7" cy="20.8" r="3.8"/><circle cx="9.8" cy="74.0" r="3.2"/><circle cx="58.5" cy="9.6" r="2.6"/><circle cx="6.3" cy="118.5" r="3.0"/><circle cx="8.5" cy="8.2" r="2.9"/><circle cx="107.2" cy="96.5" r="2.9"/><circle cx="15.9" cy="57.7" r="4.1"/><circle cx="20.5" cy="67.5" r="2.5"/><circle cx="118.2" cy="43.3" r="3.9"/><circle cx="89.7" cy="8.4" r="3.9"/><circle cx="87.4" cy="-1.0" r="4.2"/><circle cx="87.4" cy="137.0" r="4.2"/><circle cx="38.4" cy="53.2" r="3.9"/><circle cx="3.0" cy="63.7" r="2.8"/><circle cx="17.5" cy="34.2" r="3.3"/><circle cx="117.6" cy="11.1" r="3.4"/><circle cx="35.5" cy="0.6" r="3.3"/><circle cx="35.5" cy="138.6" r="3.3"/><circle cx="49.8" cy="78.2" r="4.5"/><circle cx="53.0" cy="55.1" r="2.6"/><circle cx="28.2" cy="22.4" r="3.1"/><circle cx="7.1" cy="0.0" r="2.7"/><circle cx="7.1" cy="138.0" r="2.7"/><circle cx="118.0" cy="84.7" r="2.7"/><circle cx="16.6" cy="117.2" r="4.6"/><circle cx="128.4" cy="72.9" r="2.7"/><circle cx="73.3" cy="3.7" r="3.6"/><circle cx="-2.9" cy="119.1" r="3.9"/><circle cx="132.1" cy="119.1" r="3.9"/><circle cx="44.5" cy="30.8" r="4.2"/><circle cx="3.8" cy="38.6" r="3.0"/><circle cx="121.5" cy="116.0" r="3.5"/><circle cx="127.8" cy="100.0" r="2.8"/><circle cx="-2.7" cy="90.7" r="3.2"/><circle cx="132.3" cy="90.7" r="3.2"/><circle cx="74.1" cy="18.1" r="2.4"/><circle cx="9.8" cy="33.2" r="2.6"/><circle cx="97.5" cy="2.7" r="3.6"/><circle cx="97.5" cy="140.7" r="3.6"/><circle cx="59.5" cy="2.5" r="3.1"/><circle cx="59.5" cy="140.5" r="3.1"/><circle cx="77.0" cy="96.7" r="2.6"/><circle cx="7.8" cy="95.0" r="3.3"/><circle cx="36.2" cy="17.8" r="3.6"/><circle cx="6.8" cy="27.8" r="3.1"/><circle cx="54.6" cy="48.0" r="2.5"/><circle cx="51.5" cy="65.5" r="3.5"/><circle cx="101.3" cy="90.7" r="4.0"/><circle cx="118.7" cy="53.8" r="3.1"/><circle cx="68.1" cy="115.2" r="4.2"/><circle cx="111.6" cy="80.6" r="4.4"/><circle cx="84.7" cy="86.4" r="3.9"/><circle cx="34.0" cy="10.3" r="3.0"/><circle cx="69.7" cy="64.1" r="3.4"/><circle cx="60.7" cy="37.1" r="2.9"/><circle cx="121.2" cy="67.1" r="2.5"/><circle cx="42.7" cy="116.0" r="2.4"/><circle cx="87.0" cy="39.5" r="2.5"/><circle cx="46.4" cy="41.1" r="4.0"/><circle cx="101.2" cy="57.0" r="3.3"/><circle cx="61.7" cy="76.1" r="2.5"/><circle cx="4.6" cy="46.7" r="3.3"/><circle cx="39.8" cy="131.4" r="3.5"/><circle cx="110.9" cy="113.4" r="3.4"/><circle cx="56.3" cy="85.6" r="3.9"/><circle cx="27.5" cy="109.7" r="3.6"/><circle cx="74.3" cy="88.2" r="2.6"/><circle cx="33.4" cy="100.0" r="4.4"/><circle cx="63.9" cy="14.8" r="2.7"/><circle cx="14.1" cy="-1.0" r="3.8"/><circle cx="14.1" cy="137.0" r="3.8"/><circle cx="0.2" cy="4.7" r="2.7"/><circle cx="135.2" cy="4.7" r="2.7"/><circle cx="18.2" cy="129.2" r="2.9"/><circle cx="33.5" cy="124.7" r="2.5"/><circle cx="86.6" cy="112.2" r="2.8"/><circle cx="93.8" cy="116.7" r="4.0"/><circle cx="118.8" cy="2.1" r="3.0"/><circle cx="118.8" cy="140.1" r="3.0"/><circle cx="97.8" cy="78.7" r="3.1"/><circle cx="93.5" cy="87.5" r="3.9"/><circle cx="49.1" cy="112.8" r="4.2"/><circle cx="27.8" cy="15.5" r="2.5"/><circle cx="101.9" cy="103.9" r="3.8"/><circle cx="44.1" cy="72.1" r="2.8"/><circle cx="98.4" cy="14.0" r="4.5"/><circle cx="19.1" cy="83.3" r="3.3"/><circle cx="17.5" cy="107.2" r="4.2"/><circle cx="71.7" cy="102.4" r="3.4"/><circle cx="84.6" cy="96.1" r="3.7"/><circle cx="123.4" cy="90.5" r="3.2"/><circle cx="34.8" cy="41.7" r="3.3"/><circle cx="5.3" cy="16.4" r="4.2"/><circle cx="49.0" cy="89.0" r="3.8"/><circle cx="38.6" cy="35.6" r="2.8"/><circle cx="87.4" cy="16.6" r="3.7"/><circle cx="69.3" cy="74.9" r="3.0"/><circle cx="90.5" cy="32.8" r="2.9"/><circle cx="58.6" cy="26.2" r="3.6"/><circle cx="50.3" cy="2.1" r="3.7"/><circle cx="50.3" cy="140.1" r="3.7"/><circle cx="35.4" cy="59.9" r="2.9"/><circle cx="111.1" cy="39.0" r="3.1"/><circle cx="84.9" cy="74.9" r="2.9"/><circle cx="45.9" cy="52.6" r="2.4"/><circle cx="45.0" cy="62.0" r="2.9"/><circle cx="113.7" cy="120.5" r="3.5"/><circle cx="68.4" cy="-1.6" r="2.8"/><circle cx="68.4" cy="136.4" r="2.8"/><circle cx="42.1" cy="7.4" r="3.1"/><circle cx="124.1" cy="36.3" r="2.7"/><circle cx="106.1" cy="32.1" r="3.3"/><circle cx="124.9" cy="59.9" r="2.8"/><circle cx="65.3" cy="85.1" r="2.7"/><circle cx="41.7" cy="93.7" r="3.6"/><circle cx="79.6" cy="113.9" r="2.5"/><circle cx="51.0" cy="9.5" r="2.4"/><circle cx="52.4" cy="18.4" r="2.4"/><circle cx="96.2" cy="109.5" r="2.7"/><circle cx="123.6" cy="104.1" r="2.5"/><circle cx="65.8" cy="7.2" r="3.9"/><circle cx="83.5" cy="33.6" r="3.1"/><circle cx="12.6" cy="40.8" r="2.6"/><circle cx="24.7" cy="36.3" r="2.8"/><circle cx="12.0" cy="101.0" r="3.1"/><circle cx="85.2" cy="23.5" r="2.5"/><circle cx="119.3" cy="126.3" r="2.7"/><circle cx="130.9" cy="62.1" r="2.4"/><circle cx="38.0" cy="70.4" r="2.8"/><circle cx="14.9" cy="28.3" r="2.8"/><circle cx="15.1" cy="69.5" r="2.8"/><circle cx="78.4" cy="83.4" r="2.6"/></g><g fill="#7A7A7A"><circle cx="57.3" cy="114.1" r="2.7"/><circle cx="77.5" cy="72.5" r="4.3"/><circle cx="90.2" cy="105.5" r="3.7"/><circle cx="113.4" cy="130.4" r="3.4"/><circle cx="15.8" cy="8.1" r="4.1"/><circle cx="48.4" cy="122.0" r="4.5"/><circle cx="93.2" cy="71.1" r="3.8"/><circle cx="62.9" cy="66.8" r="2.6"/><circle cx="110.5" cy="102.1" r="2.9"/><circle cx="69.9" cy="49.1" r="2.5"/><circle cx="106.5" cy="45.9" r="4.2"/><circle cx="131.2" cy="54.6" r="3.3"/><circle cx="24.7" cy="0.5" r="4.2"/><circle cx="24.7" cy="138.5" r="4.2"/><circle cx="75.1" cy="45.0" r="3.5"/><circle cx="75.0" cy="108.2" r="2.6"/><circle cx="75.6" cy="34.3" r="3.0"/><circle cx="29.6" cy="131.4" r="3.3"/><circle cx="57.0" cy="125.8" r="4.2"/><circle cx="9.8" cy="129.5" r="3.8"/><circle cx="108.2" cy="11.6" r="4.3"/><circle cx="41.2" cy="104.8" r="3.0"/><circle cx="67.5" cy="24.6" r="3.2"/><circle cx="110.6" cy="59.6" r="3.5"/><circle cx="98.5" cy="28.3" r="4.0"/><circle cx="41.1" cy="78.4" r="2.4"/><circle cx="-3.2" cy="35.9" r="3.8"/><circle cx="131.8" cy="35.9" r="3.8"/><circle cx="46.2" cy="12.6" r="2.9"/><circle cx="116.5" cy="29.8" r="3.0"/><circle cx="47.4" cy="131.9" r="2.7"/><circle cx="52.2" cy="34.6" r="3.3"/><circle cx="104.3" cy="83.8" r="3.1"/><circle cx="116.9" cy="62.0" r="3.0"/><circle cx="105.0" cy="130.5" r="2.6"/><circle cx="91.6" cy="25.6" r="3.1"/><circle cx="7.9" cy="107.5" r="2.4"/><circle cx="113.8" cy="91.4" r="4.0"/><circle cx="0.4" cy="99.6" r="3.0"/><circle cx="135.4" cy="99.6" r="3.0"/><circle cx="119.2" cy="76.6" r="3.0"/><circle cx="29.5" cy="78.8" r="2.7"/><circle cx="0.6" cy="71.7" r="3.4"/><circle cx="135.6" cy="71.7" r="3.4"/><circle cx="104.2" cy="21.9" r="2.5"/><circle cx="78.5" cy="12.1" r="4.4"/><circle cx="53.1" cy="103.2" r="4.2"/><circle cx="27.9" cy="8.3" r="3.0"/><circle cx="5.9" cy="83.3" r="2.6"/><circle cx="126.6" cy="47.0" r="4.4"/><circle cx="7.8" cy="57.2" r="2.5"/><circle cx="68.7" cy="56.3" r="3.6"/><circle cx="64.3" cy="30.5" r="2.7"/><circle cx="0.8" cy="-1.6" r="3.0"/><circle cx="0.8" cy="136.4" r="3.0"/><circle cx="135.8" cy="-1.6" r="3.0"/><circle cx="135.8" cy="136.4" r="3.0"/><circle cx="39.4" cy="122.9" r="2.6"/><circle cx="90.2" cy="79.7" r="3.3"/><circle cx="79.2" cy="91.2" r="2.8"/><circle cx="82.6" cy="104.6" r="3.4"/><circle cx="78.2" cy="63.5" r="3.5"/><circle cx="23.5" cy="74.6" r="3.4"/><circle cx="114.7" cy="18.7" r="3.7"/><circle cx="11.3" cy="80.1" r="2.7"/><circle cx="18.4" cy="40.6" r="2.6"/><circle cx="40.7" cy="45.9" r="2.9"/><circle cx="111.6" cy="51.5" r="2.7"/></g><g fill="#6C6C6C"><circle cx="30.1" cy="86.6" r="4.5"/><circle cx="77.9" cy="54.7" r="4.5"/><circle cx="19.5" cy="16.3" r="3.1"/><circle cx="110.2" cy="24.9" r="3.7"/><circle cx="86.3" cy="51.4" r="3.6"/><circle cx="91.9" cy="59.0" r="3.1"/><circle cx="98.5" cy="39.7" r="4.6"/><circle cx="74.2" cy="121.9" r="4.2"/><circle cx="20.4" cy="24.3" r="2.9"/><circle cx="31.5" cy="66.9" r="3.7"/><circle cx="105.3" cy="120.7" r="4.2"/><circle cx="13.7" cy="50.2" r="2.5"/><circle cx="104.2" cy="73.5" r="4.1"/><circle cx="93.5" cy="132.0" r="3.4"/><circle cx="126.5" cy="-1.7" r="4.5"/><circle cx="126.5" cy="136.3" r="4.5"/><circle cx="101.3" cy="66.0" r="2.8"/><circle cx="64.5" cy="129.9" r="3.9"/><circle cx="20.9" cy="98.8" r="3.9"/><circle cx="-2.0" cy="108.8" r="4.5"/><circle cx="133.0" cy="108.8" r="4.5"/><circle cx="-2.1" cy="20.6" r="4.0"/><circle cx="132.9" cy="20.6" r="4.0"/><circle cx="92.2" cy="95.7" r="2.9"/><circle cx="64.7" cy="94.4" r="4.1"/><circle cx="132.0" cy="129.2" r="2.4"/><circle cx="127.7" cy="29.1" r="3.7"/><circle cx="119.7" cy="97.1" r="2.9"/><circle cx="-0.2" cy="81.3" r="3.2"/><circle cx="134.8" cy="81.3" r="3.2"/><circle cx="85.2" cy="126.1" r="4.5"/><circle cx="125.1" cy="17.6" r="3.4"/><circle cx="31.2" cy="30.6" r="4.1"/><circle cx="21.4" cy="123.7" r="3.0"/><circle cx="68.3" cy="44.0" r="2.5"/><circle cx="117.6" cy="107.9" r="3.3"/><circle cx="74.4" cy="129.8" r="2.7"/><circle cx="62.8" cy="102.4" r="3.4"/><circle cx="27.7" cy="44.0" r="3.3"/><circle cx="96.6" cy="50.8" r="3.1"/><circle cx="11.6" cy="122.6" r="2.5"/><circle cx="27.9" cy="53.6" r="2.5"/><circle cx="42.3" cy="86.7" r="2.6"/><circle cx="56.8" cy="96.4" r="3.2"/><circle cx="85.6" cy="64.7" r="3.6"/><circle cx="13.7" cy="19.7" r="2.9"/><circle cx="129.7" cy="10.4" r="3.8"/><circle cx="68.0" cy="37.5" r="3.5"/><circle cx="79.6" cy="26.1" r="2.8"/><circle cx="127.9" cy="125.6" r="2.5"/><circle cx="33.8" cy="112.8" r="2.5"/><circle cx="111.5" cy="70.7" r="2.6"/><circle cx="23.4" cy="49.5" r="2.8"/><circle cx="28.7" cy="120.4" r="2.7"/><circle cx="69.3" cy="81.2" r="2.6"/><circle cx="78.4" cy="-1.7" r="3.2"/><circle cx="78.4" cy="136.3" r="3.2"/><circle cx="65.5" cy="123.0" r="2.8"/><circle cx="56.6" cy="134.3" r="3.3"/><circle cx="12.3" cy="87.8" r="4.3"/><circle cx="89.9" cy="45.5" r="2.6"/><circle cx="107.0" cy="0.6" r="3.5"/><circle cx="107.0" cy="138.6" r="3.5"/><circle cx="18.0" cy="46.7" r="2.5"/><circle cx="48.6" cy="96.5" r="2.6"/><circle cx="59.3" cy="19.4" r="2.8"/><circle cx="61.5" cy="46.8" r="4.1"/><circle cx="82.7" cy="119.0" r="2.7"/><circle cx="54.8" cy="72.4" r="2.7"/><circle cx="59.5" cy="60.3" r="4.1"/><circle cx="10.3" cy="62.5" r="2.4"/><circle cx="16.8" cy="77.3" r="2.8"/><circle cx="21.0" cy="90.9" r="3.1"/><circle cx="119.0" cy="24.1" r="2.4"/><circle cx="128.8" cy="82.1" r="2.5"/><circle cx="126.5" cy="67.3" r="2.4"/><circle cx="25.5" cy="61.3" r="3.0"/><circle cx="37.0" cy="24.7" r="3.0"/><circle cx="98.7" cy="125.2" r="2.4"/><circle cx="100.8" cy="114.1" r="2.5"/><circle cx="82.2" cy="44.4" r="3.1"/><circle cx="33.2" cy="74.4" r="2.4"/><circle cx="1.3" cy="124.8" r="2.6"/><circle cx="136.3" cy="124.8" r="2.6"/></g></pattern>
<filter id="semd" x="0" y="0" width="1" height="1" color-interpolation-filters="sRGB">
<feGaussianBlur in="SourceGraphic" stdDeviation="0.9" result="b"/>
<feTurbulence type="fractalNoise" baseFrequency="0.38" numOctaves="2" seed="4" result="t"/>
<feColorMatrix in="t" type="matrix" values="1 0 0 0 0  1 0 0 0 0  1 0 0 0 0  0 0 0 0 1" result="n"/>
<feComposite in="b" in2="n" operator="arithmetic" k1="0" k2="1" k3="0.34" k4="-0.17"/>
</filter>
<filter id="seme" x="0" y="0" width="1" height="1" color-interpolation-filters="sRGB">
<feGaussianBlur in="SourceGraphic" stdDeviation="0.8" result="b"/>
<feTurbulence type="fractalNoise" baseFrequency="0.38" numOctaves="2" seed="9" result="t"/>
<feColorMatrix in="t" type="matrix" values="1 0 0 0 0  1 0 0 0 0  1 0 0 0 0  0 0 0 0 1" result="n"/>
<feComposite in="b" in2="n" operator="arithmetic" k1="0" k2="1" k3="0.22" k4="-0.11"/>
</filter>
<filter id="temf" x="0" y="0" width="1" height="1" color-interpolation-filters="sRGB">
<feGaussianBlur in="SourceGraphic" stdDeviation="0.9" result="b"/>
<feTurbulence type="fractalNoise" baseFrequency="0.38" numOctaves="2" seed="5" result="t"/>
<feColorMatrix in="t" type="matrix" values="1 0 0 0 0  1 0 0 0 0  1 0 0 0 0  0 0 0 0 1" result="n"/>
<feComposite in="b" in2="n" operator="arithmetic" k1="0" k2="1" k3="0.34" k4="-0.17"/>
</filter>
<filter id="temg" x="0" y="0" width="1" height="1" color-interpolation-filters="sRGB">
<feGaussianBlur in="SourceGraphic" stdDeviation="1.0" result="b"/>
<feTurbulence type="fractalNoise" baseFrequency="0.38" numOctaves="2" seed="8" result="t"/>
<feColorMatrix in="t" type="matrix" values="1 0 0 0 0  1 0 0 0 0  1 0 0 0 0  0 0 0 0 1" result="n"/>
<feComposite in="b" in2="n" operator="arithmetic" k1="0" k2="1" k3="0.34" k4="-0.17"/>
</filter>
<filter id="soft" x="-0.5" y="-0.5" width="2" height="2"><feGaussianBlur stdDeviation="14"/></filter>
<filter id="soft3" x="-0.5" y="-0.5" width="2" height="2"><feGaussianBlur stdDeviation="10"/></filter><filter id="soft4" x="-0.5" y="-2" width="2" height="5"><feGaussianBlur stdDeviation="3.5"/></filter><filter id="soft2" x="-0.5" y="-0.5" width="2" height="2"><feGaussianBlur stdDeviation="6"/></filter>
<clipPath id="cf"><rect x="1267.3" y="533.3" width="413.7" height="413.3"/></clipPath>
<clipPath id="cg"><rect x="1269.9" y="1005.4" width="410.4" height="411.2"/></clipPath>
<linearGradient id="fup" x1="0" y1="0" x2="1" y2="0.25"><stop offset="0" stop-color="#B4B4B4"/><stop offset="0.5" stop-color="#9C9C9C"/><stop offset="1" stop-color="#747474"/></linearGradient>
<linearGradient id="flo" gradientUnits="userSpaceOnUse" x1="1520" y1="740" x2="1330" y2="960"><stop offset="0" stop-color="#525252"/><stop offset="0.5" stop-color="#666"/><stop offset="1" stop-color="#7E7E7E"/></linearGradient>
<linearGradient id="gup" x1="0" y1="0" x2="1" y2="0.25"><stop offset="0" stop-color="#8C8C8C"/><stop offset="0.3" stop-color="#A2A2A2"/><stop offset="0.6" stop-color="#B2B2B2"/><stop offset="1" stop-color="#C4C4C4"/></linearGradient>
<linearGradient id="glo" x1="0" y1="0" x2="1" y2="0.15"><stop offset="0" stop-color="#4C4C4C"/><stop offset="0.4" stop-color="#5E5E5E"/><stop offset="0.75" stop-color="#707070"/><stop offset="1" stop-color="#747474"/></linearGradient>
</defs>
<text x="764.8" y="556.0" font-size="45.5" font-weight="bold" fill="#000" text-anchor="start" >d</text>
<g filter="url(#semd)"><rect x="803" y="533.3" width="404.3" height="413.3" fill="url(#gpd)"/>
<g><ellipse cx="1082" cy="600" rx="6" ry="8" fill="#ABABAB" transform="rotate(65 1082 600)"/><ellipse cx="975" cy="575" rx="13" ry="9" fill="#ABABAB" transform="rotate(91 975 575)"/><ellipse cx="933" cy="700" rx="10" ry="11" fill="#ABABAB" transform="rotate(166 933 700)"/><ellipse cx="1062" cy="557" rx="8" ry="7" fill="#ABABAB" transform="rotate(7 1062 557)"/><ellipse cx="1176" cy="605" rx="8" ry="8" fill="#C8C8C8" transform="rotate(63 1176 605)"/><ellipse cx="1150" cy="750" rx="12" ry="9" fill="#ABABAB" transform="rotate(13 1150 750)"/><ellipse cx="1033" cy="815" rx="8" ry="8" fill="#B8B8B8" transform="rotate(28 1033 815)"/><ellipse cx="862" cy="785" rx="6" ry="6" fill="#C8C8C8" transform="rotate(120 862 785)"/><ellipse cx="1004" cy="762" rx="7" ry="6" fill="#B8B8B8" transform="rotate(97 1004 762)"/><ellipse cx="905" cy="835" rx="7" ry="7" fill="#ABABAB" transform="rotate(26 905 835)"/><ellipse cx="1152" cy="830" rx="6" ry="8" fill="#ABABAB" transform="rotate(63 1152 830)"/><ellipse cx="1035" cy="850" rx="6" ry="5" fill="#B8B8B8" transform="rotate(55 1035 850)"/><ellipse cx="850" cy="560" rx="6" ry="6" fill="#C8C8C8" transform="rotate(71 850 560)"/><ellipse cx="1120" cy="640" rx="6" ry="6" fill="#B8B8B8" transform="rotate(99 1120 640)"/><ellipse cx="880" cy="640" rx="6" ry="6" fill="#B8B8B8" transform="rotate(18 880 640)"/><ellipse cx="1100" cy="700" rx="6" ry="7" fill="#B8B8B8" transform="rotate(158 1100 700)"/><ellipse cx="960" cy="640" rx="6" ry="6" fill="#ABABAB" transform="rotate(113 960 640)"/><ellipse cx="1180" cy="680" rx="6" ry="7" fill="#B8B8B8" transform="rotate(33 1180 680)"/><ellipse cx="1015" cy="690" rx="6" ry="6" fill="#B8B8B8" transform="rotate(1 1015 690)"/><ellipse cx="840" cy="700" rx="5" ry="5" fill="#B8B8B8" transform="rotate(55 840 700)"/><ellipse cx="1090" cy="790" rx="6" ry="6" fill="#B8B8B8" transform="rotate(42 1090 790)"/><ellipse cx="960" cy="880" rx="6" ry="6" fill="#C8C8C8" transform="rotate(80 960 880)"/><ellipse cx="1130" cy="900" rx="6" ry="6" fill="#B8B8B8" transform="rotate(138 1130 900)"/><ellipse cx="870" cy="900" rx="6" ry="6" fill="#ABABAB" transform="rotate(160 870 900)"/></g></g>
<text transform="translate(815.3,570.3) scale(1,1.06)" font-size="27.8" font-weight="bold" fill="#fff" >IP</text>
<text x="1088.2" y="900.2" font-size="29.2" font-weight="bold" fill="#fff" text-anchor="start" >500 nm</text>
<rect x="1094.7" y="911.6" width="96.3" height="6.6" fill="#fff"/>
<text x="765.4" y="1040.6" font-size="45.5" font-weight="bold" fill="#000" text-anchor="start" >e</text>
<g filter="url(#seme)"><rect x="803.2" y="1005" width="404.6" height="412.6" fill="url(#gpe)"/>
<g><ellipse cx="1153" cy="1052" rx="6" ry="6" fill="#8E8E8E"/><ellipse cx="1173" cy="1072" rx="6" ry="6" fill="#A4A4A4"/><ellipse cx="1128" cy="1118" rx="5" ry="5" fill="#8E8E8E"/><ellipse cx="1116" cy="1148" rx="5" ry="5" fill="#B6B6B6"/><ellipse cx="890" cy="1170" rx="6" ry="5" fill="#B6B6B6"/><ellipse cx="850" cy="1225" rx="6" ry="6" fill="#969696"/><ellipse cx="818" cy="1228" rx="5" ry="5" fill="#969696"/><ellipse cx="969" cy="1233" rx="5" ry="5" fill="#B6B6B6"/><ellipse cx="1051" cy="1242" rx="8" ry="8" fill="#B6B6B6"/><ellipse cx="1013" cy="1052" rx="5" ry="5" fill="#B6B6B6"/><ellipse cx="1037" cy="1081" rx="5" ry="5" fill="#B6B6B6"/><ellipse cx="905" cy="1100" rx="6" ry="5" fill="#8E8E8E"/><ellipse cx="1012" cy="1127" rx="5" ry="5" fill="#A4A4A4"/><ellipse cx="912" cy="1297" rx="5" ry="5" fill="#A4A4A4"/><ellipse cx="1005" cy="1388" rx="6" ry="6" fill="#A4A4A4"/><ellipse cx="841" cy="1245" rx="5" ry="5" fill="#A4A4A4"/><ellipse cx="1078" cy="1180" rx="5" ry="6" fill="#8E8E8E"/><ellipse cx="1103" cy="1053" rx="4.5" ry="4" fill="#A4A4A4"/><ellipse cx="828" cy="1012" rx="3.5" ry="4.5" fill="#A4A4A4"/><ellipse cx="1198" cy="1388" rx="4" ry="4" fill="#A4A4A4"/><ellipse cx="821" cy="1151" rx="4.5" ry="3.5" fill="#969696"/><ellipse cx="1183" cy="1223" rx="3" ry="3.5" fill="#A4A4A4"/><ellipse cx="1098" cy="1295" rx="4" ry="3" fill="#A4A4A4"/><ellipse cx="1027" cy="1183" rx="3" ry="4" fill="#B6B6B6"/><ellipse cx="1019" cy="1140" rx="4.5" ry="3" fill="#8E8E8E"/><ellipse cx="1196" cy="1112" rx="4" ry="3" fill="#B6B6B6"/><ellipse cx="833" cy="1313" rx="3.5" ry="4" fill="#969696"/><ellipse cx="1059" cy="1111" rx="3" ry="4" fill="#A4A4A4"/><ellipse cx="935" cy="1320" rx="4.5" ry="4" fill="#8E8E8E"/><ellipse cx="992" cy="1313" rx="3" ry="3" fill="#A4A4A4"/><ellipse cx="1066" cy="1359" rx="3.5" ry="3" fill="#A4A4A4"/><ellipse cx="1121" cy="1351" rx="4" ry="4" fill="#B6B6B6"/><ellipse cx="1178" cy="1112" rx="4.5" ry="4.5" fill="#8E8E8E"/><ellipse cx="924" cy="1082" rx="3.5" ry="3" fill="#A4A4A4"/><ellipse cx="906" cy="1410" rx="3.5" ry="3" fill="#A4A4A4"/><ellipse cx="1141" cy="1182" rx="4" ry="4" fill="#B6B6B6"/><ellipse cx="1003" cy="1282" rx="4.5" ry="4" fill="#A4A4A4"/><ellipse cx="874" cy="1359" rx="4.5" ry="3" fill="#A4A4A4"/><ellipse cx="904" cy="1228" rx="4.5" ry="3" fill="#8E8E8E"/><ellipse cx="1035" cy="1137" rx="3" ry="4.5" fill="#969696"/><ellipse cx="1038" cy="1206" rx="3" ry="4.5" fill="#969696"/><ellipse cx="1051" cy="1167" rx="4.5" ry="3" fill="#8E8E8E"/><ellipse cx="908" cy="1394" rx="4" ry="4.5" fill="#B6B6B6"/><ellipse cx="1059" cy="1381" rx="3.5" ry="3" fill="#B6B6B6"/><ellipse cx="821" cy="1287" rx="3" ry="4" fill="#B6B6B6"/><ellipse cx="1111" cy="1196" rx="3.5" ry="4" fill="#969696"/><ellipse cx="1067" cy="1243" rx="4" ry="4" fill="#A4A4A4"/><ellipse cx="1020" cy="1227" rx="4.5" ry="4" fill="#969696"/><ellipse cx="1118" cy="1255" rx="4.5" ry="4.5" fill="#969696"/><ellipse cx="882" cy="1381" rx="4.5" ry="4.5" fill="#A4A4A4"/><ellipse cx="966" cy="1336" rx="4.5" ry="4" fill="#A4A4A4"/><ellipse cx="997" cy="1349" rx="3.5" ry="4.5" fill="#969696"/><ellipse cx="1165" cy="1320" rx="4" ry="4" fill="#969696"/><ellipse cx="1140" cy="1215" rx="4.5" ry="3.5" fill="#A4A4A4"/><ellipse cx="958" cy="1298" rx="3" ry="4.5" fill="#B6B6B6"/><ellipse cx="839" cy="1105" rx="3" ry="3" fill="#A4A4A4"/><ellipse cx="1159" cy="1379" rx="4" ry="4" fill="#969696"/><ellipse cx="1064" cy="1313" rx="3" ry="3.5" fill="#969696"/><ellipse cx="889" cy="1149" rx="3" ry="4.5" fill="#8E8E8E"/><ellipse cx="1078" cy="1263" rx="3" ry="4.5" fill="#A4A4A4"/><ellipse cx="928" cy="1063" rx="4" ry="4" fill="#969696"/><ellipse cx="884" cy="1360" rx="3.5" ry="4" fill="#B6B6B6"/><ellipse cx="883" cy="1031" rx="3" ry="3" fill="#A4A4A4"/><ellipse cx="833" cy="1342" rx="4.5" ry="4.5" fill="#A4A4A4"/><ellipse cx="1180" cy="1047" rx="3" ry="3.5" fill="#969696"/><ellipse cx="1125" cy="1054" rx="3.5" ry="4" fill="#A4A4A4"/><ellipse cx="1144" cy="1243" rx="4.5" ry="3" fill="#8E8E8E"/><ellipse cx="1136" cy="1082" rx="3.5" ry="4.5" fill="#A4A4A4"/><ellipse cx="1055" cy="1410" rx="4.5" ry="4.5" fill="#8E8E8E"/><ellipse cx="1095" cy="1153" rx="4.5" ry="3" fill="#969696"/><ellipse cx="959" cy="1198" rx="4" ry="4" fill="#A4A4A4"/><ellipse cx="827" cy="1054" rx="4" ry="4" fill="#969696"/><ellipse cx="950" cy="1254" rx="4.5" ry="4.5" fill="#B6B6B6"/><ellipse cx="1000" cy="1028" rx="3" ry="3.5" fill="#B6B6B6"/><ellipse cx="1119" cy="1338" rx="3.5" ry="3" fill="#B6B6B6"/><ellipse cx="1188" cy="1100" rx="4" ry="4" fill="#8E8E8E"/><ellipse cx="826" cy="1038" rx="3.5" ry="4.5" fill="#B6B6B6"/><ellipse cx="985" cy="1051" rx="3.5" ry="3" fill="#B6B6B6"/><ellipse cx="1014" cy="1292" rx="3.5" ry="4.5" fill="#8E8E8E"/><ellipse cx="1190" cy="1265" rx="3" ry="3.5" fill="#8E8E8E"/><ellipse cx="847" cy="1191" rx="3" ry="3.5" fill="#8E8E8E"/><ellipse cx="1079" cy="1374" rx="3.5" ry="3.5" fill="#969696"/><ellipse cx="954" cy="1390" rx="3.5" ry="4.5" fill="#969696"/><ellipse cx="924" cy="1125" rx="3.5" ry="4.5" fill="#B6B6B6"/><ellipse cx="1163" cy="1095" rx="4" ry="3.5" fill="#969696"/><ellipse cx="1097" cy="1305" rx="3" ry="4.5" fill="#A4A4A4"/><ellipse cx="906" cy="1401" rx="4" ry="4.5" fill="#B6B6B6"/></g></g>
<text transform="translate(813.5,1052.9) scale(1,1.06)" font-size="27.7" font-weight="bold" fill="#fff" >OSARIP</text>
<text x="1083.0" y="1368.3" font-size="29.2" font-weight="bold" fill="#fff" text-anchor="start" >500 nm</text>
<rect x="1084.6" y="1383.9" width="97.4" height="6.4" fill="#fff"/>
<text x="1233.5" y="555.9" font-size="45.5" font-weight="bold" fill="#000" text-anchor="start" >f</text>
<g clip-path="url(#cf)"><g filter="url(#temf)">
<rect x="1240" y="510" width="470" height="460" fill="url(#fup)"/>
<path d="M1240,630.5 L1267.3,639 L1318,653.7 L1383.3,673.3 L1448.6,696.1 L1513.9,717.3 L1579.2,738.6 L1644.5,758.2 L1681,768 L1710,776 L1710,980 L1240,980 Z" fill="#828282"/>
<path d="M1240,658.5 L1267.3,666.0 L1318,678.9 L1383.3,696.1 L1448.6,716.6 L1513.9,735.4 L1579.2,754.4 L1644.5,771.6 L1681,780.1 L1710,787.1 L1710,980 L1240,980 Z" fill="url(#flo)"/>
<clipPath id="cfl"><path d="M1240,658.5 L1267.3,666.0 L1318,678.9 L1383.3,696.1 L1448.6,716.6 L1513.9,735.4 L1579.2,754.4 L1644.5,771.6 L1681,780.1 L1710,787.1 L1710,980 L1240,980 Z"/></clipPath>
<g clip-path="url(#cfl)"><g filter="url(#soft3)">
<ellipse cx="1318" cy="722.2" rx="34" ry="31" fill="#484848" opacity="0.7"/><ellipse cx="1448.6" cy="745.1" rx="28" ry="25" fill="#404040" opacity="0.6"/><ellipse cx="1513.9" cy="770" rx="28" ry="25" fill="#3C3C3C" opacity="0.6"/><ellipse cx="1654.3" cy="820.2" rx="48" ry="43" fill="#262626" opacity="0.8"/><ellipse cx="1660.8" cy="885.5" rx="36" ry="32" fill="#2C2C2C" opacity="0.7"/><ellipse cx="1415.9" cy="852.9" rx="22" ry="20" fill="#444" opacity="0.6"/><ellipse cx="1350.6" cy="820.2" rx="18" ry="16" fill="#484848" opacity="0.55"/><ellipse cx="1590" cy="860" rx="26" ry="23" fill="#3A3A3A" opacity="0.6"/><ellipse cx="1500" cy="900" rx="20" ry="18" fill="#484848" opacity="0.5"/><ellipse cx="1385" cy="740" rx="22" ry="20" fill="#444" opacity="0.5"/><ellipse cx="1301.6" cy="852.9" rx="36" ry="32" fill="#B4B4B4" opacity="0.8"/><ellipse cx="1285.3" cy="787.5" rx="24" ry="22" fill="#A4A4A4" opacity="0.7"/><ellipse cx="1393" cy="794" rx="28" ry="25" fill="#A6A6A6" opacity="0.75"/><ellipse cx="1422.4" cy="771.2" rx="18" ry="16" fill="#9A9A9A" opacity="0.6"/><ellipse cx="1357.1" cy="869.2" rx="24" ry="22" fill="#989898" opacity="0.6"/><ellipse cx="1481.2" cy="852.9" rx="26" ry="23" fill="#8C8C8C" opacity="0.6"/><ellipse cx="1562.9" cy="794.1" rx="24" ry="22" fill="#808080" opacity="0.55"/><ellipse cx="1546.5" cy="928" rx="26" ry="23" fill="#858585" opacity="0.6"/><ellipse cx="1448.6" cy="918.2" rx="24" ry="22" fill="#868686" opacity="0.6"/><ellipse cx="1278.8" cy="918.2" rx="26" ry="23" fill="#A0A0A0" opacity="0.7"/><ellipse cx="1610" cy="935" rx="30" ry="27" fill="#747474" opacity="0.6"/><ellipse cx="1340" cy="930" rx="22" ry="20" fill="#8A8A8A" opacity="0.5"/>
</g></g>
<g fill="#C8C8C8" opacity="0.6"><ellipse cx="1287" cy="673" rx="2" ry="5"/><ellipse cx="1346" cy="770" rx="3" ry="8"/><ellipse cx="1412" cy="786" rx="4" ry="9"/><ellipse cx="1435" cy="730" rx="3" ry="5"/><ellipse cx="1455" cy="740" rx="3" ry="8"/><ellipse cx="1452" cy="775" rx="3" ry="8"/><ellipse cx="1560" cy="790" rx="5" ry="5"/><ellipse cx="1478" cy="853" rx="9" ry="5"/><ellipse cx="1351" cy="860" rx="3" ry="6"/><ellipse cx="1296" cy="905" rx="6" ry="5"/><ellipse cx="1268" cy="730" rx="3" ry="5"/><ellipse cx="1533" cy="812" rx="3" ry="3"/><ellipse cx="1523" cy="835" rx="2" ry="4"/><ellipse cx="1279" cy="930" rx="4" ry="6"/></g>
<path d="M1240,630.5 L1267.3,639 L1318,653.7 L1383.3,673.3 L1448.6,696.1 L1513.9,717.3 L1579.2,738.6 L1644.5,758.2 L1681,768 L1710,776" fill="none" stroke="#333" stroke-width="3.6"/>
</g></g>
<text transform="translate(1278.8,570.3) scale(1,1.06)" font-size="27.8" font-weight="bold" fill="#fff" opacity="0.9">IP</text>
<text x="1544.0" y="630.5" font-size="29.5" font-weight="bold" fill="#000" text-anchor="middle" >PA selective layer</text>
<text x="1543.9" y="666.4" font-size="29.5" font-weight="bold" fill="#000" text-anchor="middle" >~67 nm</text>
<path d="M1608.6,679.8 L1526.9,679.8 L1486.1,720.6" fill="none" stroke="#000" stroke-width="2.2"/>
<text x="1556.3" y="900.2" font-size="29.2" font-weight="bold" fill="#fff" text-anchor="start" >200 nm</text>
<rect x="1579.2" y="911.6" width="54.8" height="6.6" fill="#fff"/>
<text x="1227.5" y="1040.3" font-size="45.5" font-weight="bold" fill="#000" text-anchor="start" >g</text>
<g clip-path="url(#cg)"><g filter="url(#temg)">
<rect x="1240" y="990" width="470" height="460" fill="url(#gup)"/>
<path d="M1240,1126 L1269.9,1129 L1313.6,1135.5 L1376,1151 L1420,1163" fill="none" stroke="#707070" stroke-width="12" opacity="0.7" filter="url(#soft2)"/>
<path d="M1240,1130.5 L1269.9,1133.5 L1313.6,1139.8 L1376,1155.4 L1438.4,1171 L1500.8,1181.9 L1563.3,1192.8 L1625.7,1203.8 L1680.3,1208.4 L1710,1211 L1710,1450 L1240,1450 Z" fill="#424242"/>
<g filter="url(#soft2)"><path d="M1240,1161.3 L1269.9,1163.5 L1313.6,1168.6 L1376,1182.4 L1438.4,1196.3 L1500.8,1205.4 L1563.3,1214.6 L1625.7,1223.8 L1680.3,1226.9 L1710,1228.7 L1710,1450 L1240,1450 Z" fill="url(#glo)"/></g>
<path d="M1240,1130.5 L1269.9,1133.5 L1313.6,1139.8 L1376,1155.4 L1438.4,1171 L1500.8,1181.9 L1563.3,1192.8 L1625.7,1203.8 L1680.3,1208.4 L1710,1211" fill="none" stroke="#343434" stroke-width="3"/>
<clipPath id="cgl"><path d="M1240,1130.5 L1269.9,1133.5 L1313.6,1139.8 L1376,1155.4 L1438.4,1171 L1500.8,1181.9 L1563.3,1192.8 L1625.7,1203.8 L1680.3,1208.4 L1710,1211 L1710,1450 L1240,1450 Z"/></clipPath>
<g clip-path="url(#cgl)"><g filter="url(#soft3)">
<ellipse cx="1329.2" cy="1208.4" rx="34" ry="31" fill="#383838" opacity="0.7"/><ellipse cx="1298" cy="1270.9" rx="30" ry="27" fill="#3A3A3A" opacity="0.65"/><ellipse cx="1391.6" cy="1302" rx="28" ry="25" fill="#3E3E3E" opacity="0.6"/><ellipse cx="1500.8" cy="1302" rx="20" ry="18" fill="#424242" opacity="0.55"/><ellipse cx="1641.3" cy="1270.9" rx="28" ry="25" fill="#404040" opacity="0.6"/><ellipse cx="1313.6" cy="1364.5" rx="34" ry="31" fill="#3A3A3A" opacity="0.65"/><ellipse cx="1563.3" cy="1395.7" rx="28" ry="25" fill="#424242" opacity="0.55"/><ellipse cx="1438.4" cy="1395.7" rx="24" ry="22" fill="#444" opacity="0.55"/><ellipse cx="1454" cy="1270.9" rx="30" ry="27" fill="#8E8E8E" opacity="0.7"/><ellipse cx="1516.5" cy="1245" rx="28" ry="25" fill="#8A8A8A" opacity="0.65"/><ellipse cx="1578.9" cy="1270.9" rx="30" ry="27" fill="#8C8C8C" opacity="0.65"/><ellipse cx="1469.6" cy="1333.3" rx="30" ry="27" fill="#888888" opacity="0.65"/><ellipse cx="1532" cy="1348.9" rx="24" ry="22" fill="#848484" opacity="0.6"/><ellipse cx="1391.6" cy="1380.1" rx="26" ry="23" fill="#888888" opacity="0.65"/><ellipse cx="1625.7" cy="1333.3" rx="26" ry="23" fill="#828282" opacity="0.6"/><ellipse cx="1323" cy="1302" rx="20" ry="18" fill="#7E7E7E" opacity="0.55"/><ellipse cx="1298" cy="1232" rx="18" ry="16" fill="#7A7A7A" opacity="0.5"/><ellipse cx="1650" cy="1395" rx="26" ry="23" fill="#7C7C7C" opacity="0.5"/><ellipse cx="1400" cy="1250" rx="20" ry="18" fill="#7A7A7A" opacity="0.5"/>
</g>
<path d="M1545,1226 Q1620,1237 1700,1242" fill="none" stroke="#9C9C9C" stroke-width="17" opacity="0.85" filter="url(#soft4)"/>
</g>
<g fill="#B0B0B0" opacity="0.6"><ellipse cx="1370" cy="1268" rx="4" ry="6"/><ellipse cx="1292" cy="1221" rx="4" ry="6"/><ellipse cx="1443" cy="1256" rx="3" ry="5"/><ellipse cx="1470" cy="1258" rx="3" ry="5"/><ellipse cx="1388" cy="1288" rx="5" ry="3"/><ellipse cx="1533" cy="1332" rx="5" ry="6"/><ellipse cx="1636" cy="1336" rx="4" ry="5"/><ellipse cx="1433" cy="1382" rx="4" ry="3"/><ellipse cx="1295" cy="1367" rx="5" ry="5"/><ellipse cx="1396" cy="1393" rx="4" ry="5"/><ellipse cx="1453" cy="1400" rx="3" ry="6"/><ellipse cx="1390" cy="1338" rx="3" ry="4"/></g>
</g></g>
<text transform="translate(1289.8,1053) scale(1,1.06)" font-size="27.7" font-weight="bold" fill="#fff" >OSARIP</text>
<text x="1545.3" y="1053.8" font-size="29.5" font-weight="bold" fill="#000" text-anchor="middle" >PA selective layer</text>
<text x="1544.5" y="1090.4" font-size="29.5" font-weight="bold" fill="#000" text-anchor="middle" >~55 nm</text>
<path d="M1585.7,1107.6 L1504.6,1107.6 L1466.5,1176.6" fill="none" stroke="#000" stroke-width="2.5"/>
<text x="1555.5" y="1368.2" font-size="29.2" font-weight="bold" fill="#fff" text-anchor="start" >200 nm</text>
<rect x="1580.4" y="1380.7" width="55.3" height="6.5" fill="#fff"/>
</svg>
</body></html>
